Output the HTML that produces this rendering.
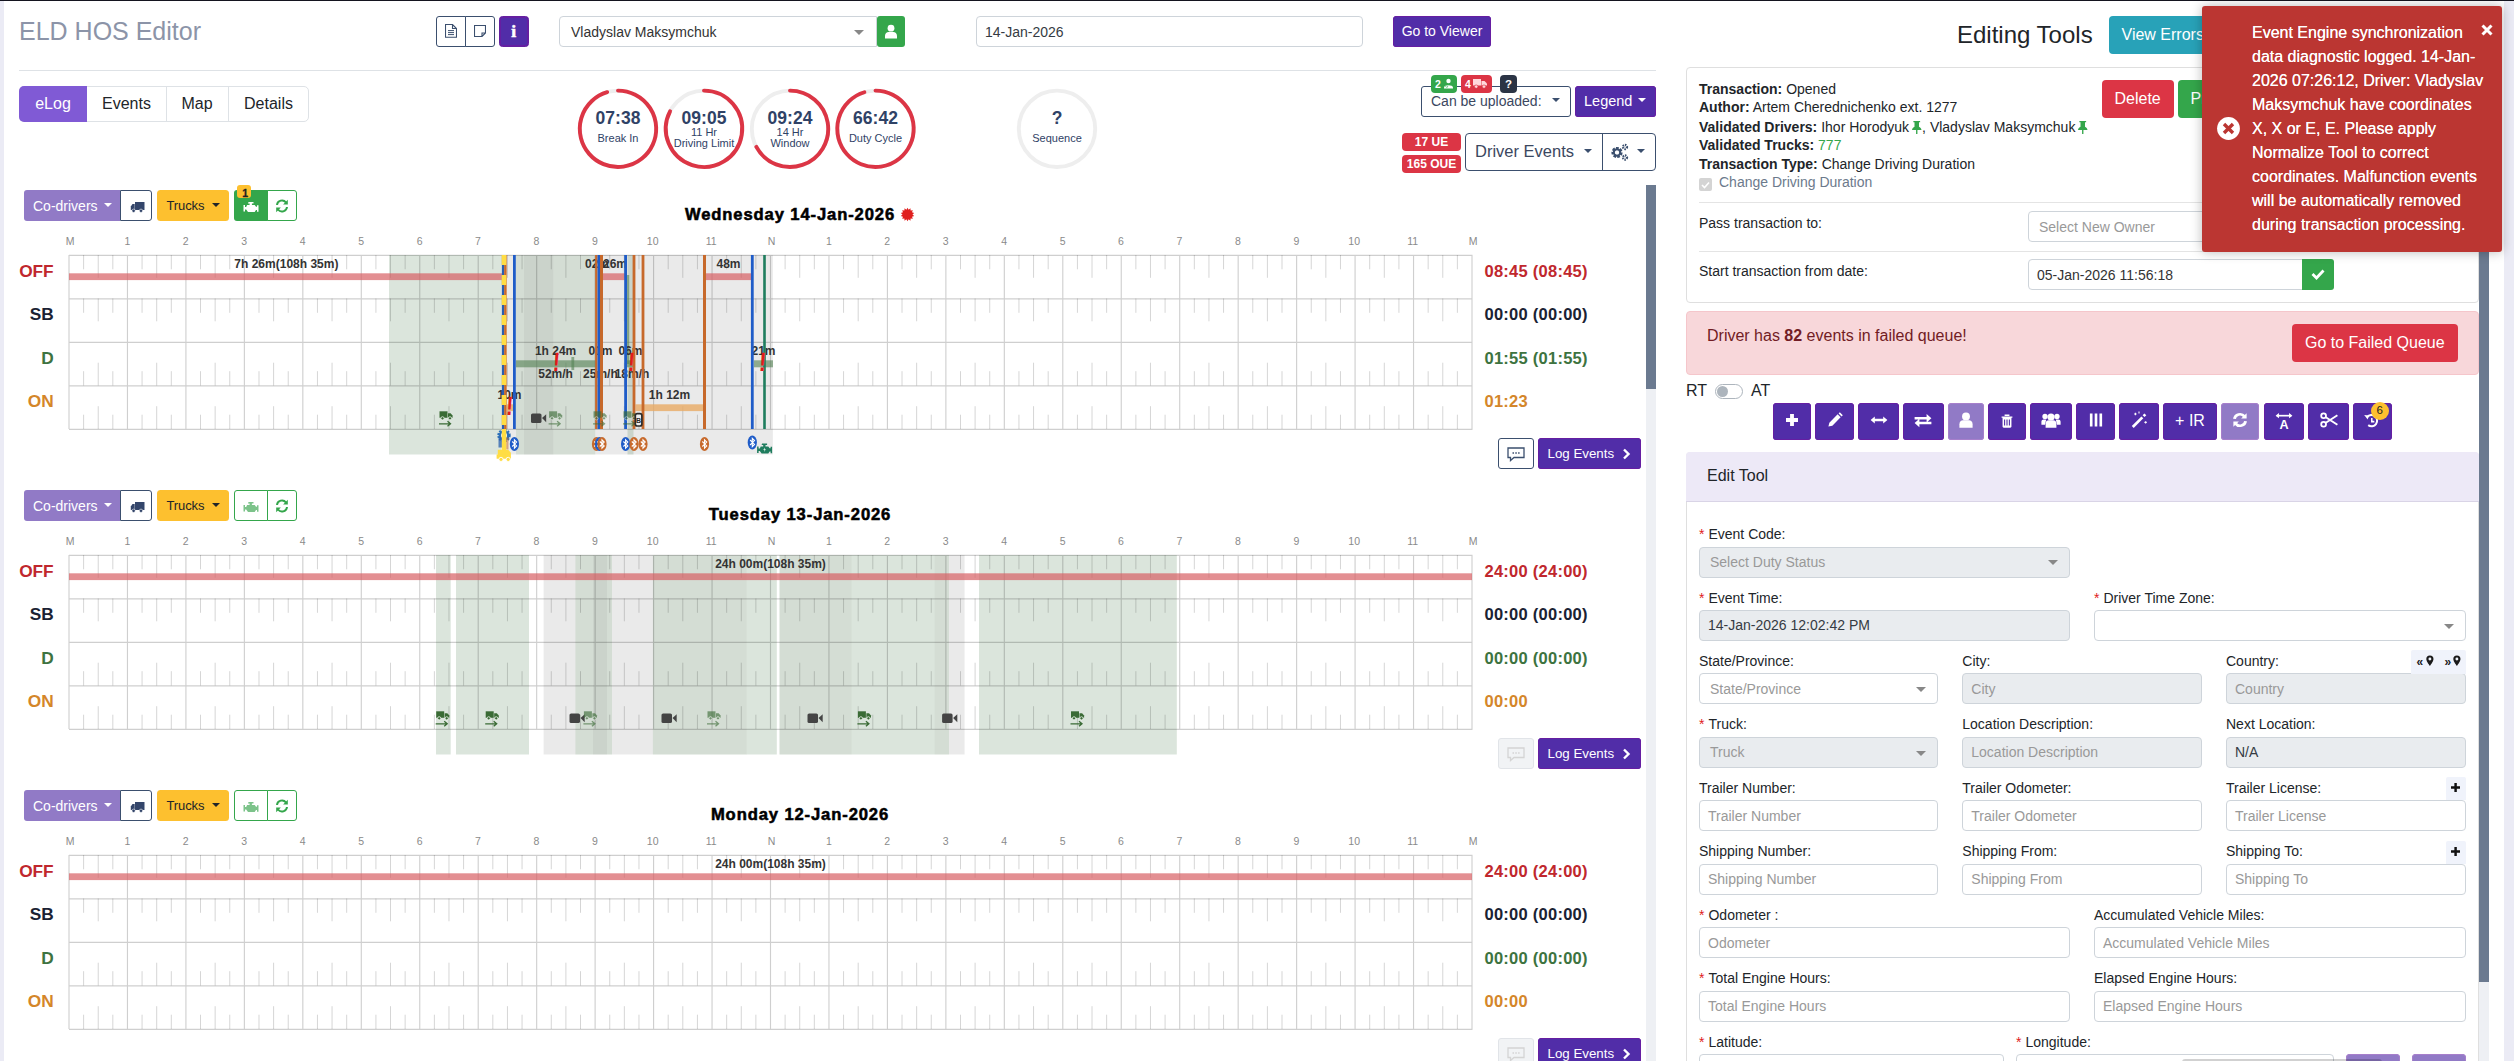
<!DOCTYPE html>
<html lang="en"><head><meta charset="utf-8"><title>ELD HOS Editor</title>
<style>
*{box-sizing:border-box}
html,body{margin:0;padding:0}
body{width:2514px;height:1061px;overflow:hidden;background:#fff;font-family:"Liberation Sans",Arial,sans-serif;color:#212529;position:relative}
.a{position:absolute}
.t{position:absolute;white-space:nowrap;line-height:1}
.btn{position:absolute;border-radius:3.5px;color:#fff;text-align:center;white-space:nowrap}
.pur{background:#512da8;box-shadow:inset 0 0 0 1px #661ea2}
.purl{background:#917ac6;box-shadow:inset 0 0 0 1px #a77fcb}
.inp{position:absolute;border:1px solid #ced4da;border-radius:4px;background:#fff;font-size:14px;color:#353b43;white-space:nowrap;overflow:hidden}
.inp span{position:absolute;left:8px;top:8px;line-height:1}
.inp.dis{background:#e9ecef}
.inp .ph{color:#999}
.inp.sel span{left:10px}
.caret{position:absolute;width:0;height:0;border-left:5.3px solid transparent;border-right:5.3px solid transparent;border-top:5.3px solid #888}
.lbl{position:absolute;font-size:14px;line-height:1;white-space:nowrap;color:#212529}
.lbl i{color:#e02020;font-style:normal;margin-right:4px}
.rowlab{position:absolute;font-weight:bold;font-size:17.3px;line-height:1;text-align:right;width:40px;white-space:nowrap}
.tot{position:absolute;font-weight:bold;font-size:16.5px;line-height:1;white-space:nowrap;letter-spacing:.25px}
.hl{position:absolute;font-size:10.5px;color:#8a8a8a;line-height:1;transform:translateX(-50%);white-space:nowrap}
.ct{font:bold 12px "Liberation Sans",Arial,sans-serif;fill:#333}
</style></head>
<body>
<div class="a" style="left:0;top:0;width:2514px;height:1px;background:#14141f"></div>
<div class="a" style="left:0;top:1px;width:4px;height:1060px;background:#ebebf5"></div>
<div class="t" style="left:19px;top:19px;font-size:25px;color:#8c94a8">ELD HOS Editor</div>
<div class="a" style="left:436px;top:16px;width:30px;height:31px;border:1px solid #3b4f6e;border-radius:3px 0 0 3px;background:#fff"></div>
<div class="a" style="left:465px;top:16px;width:30px;height:31px;border:1px solid #3b4f6e;border-radius:0 3px 3px 0;background:#fff"></div>
<svg class="a" style="left:445px;top:24px" width="12" height="14" viewBox="0 0 12 14"><path d="M.5 .5h7l4 4v8.8h-11zM7.5 .5v4h4" fill="none" stroke="#3b4f6e" stroke-width="1.1"/><path d="M3 6.6h6M3 8.6h6M3 10.6h6" stroke="#3b4f6e" stroke-width="1"/></svg>
<svg class="a" style="left:474px;top:25px" width="12" height="12" viewBox="0 0 12 12"><path d="M.5 .5h11v7.5l-3.5 3.5h-7.5zM8 11.5v-3.5h3.5" fill="none" stroke="#3b4f6e" stroke-width="1.1"/></svg>
<div class="btn pur" style="left:499.4px;top:16px;width:29.6px;height:31px;border:1px solid #6420a0"><span class="t" style="left:10.8px;top:3.8px;font:bold 17.5px 'Liberation Serif',serif;color:#fff;-webkit-text-stroke:.6px #fff">i</span></div>
<div class="inp" style="left:559px;top:16px;width:318px;height:31px;border-radius:4px 0 0 4px;color:#333"><span style="left:11px">Vladyslav Maksymchuk</span><div class="caret" style="right:12px;top:13px"></div></div>
<div class="btn" style="left:877px;top:16px;width:28px;height:31px;background:#34a64b;border-radius:3px"></div>
<svg class="a" style="left:884px;top:24px" width="14" height="15" viewBox="0 0 14 15"><circle cx="7" cy="4.2" r="3.4" fill="#fff"/><path d="M1 14.5V11.8C1 9.3 2.8 8 4.5 8h5C11.2 8 13 9.3 13 11.8v2.7z" fill="#fff"/></svg>
<div class="inp" style="left:976px;top:16px;width:387px;height:31px"><span>14-Jan-2026</span></div>
<div class="btn pur" style="left:1393px;top:16px;width:98px;height:31px;font-size:14px;line-height:31px">Go to Viewer</div>
<div class="a" style="left:19px;top:70px;width:1637px;height:1px;background:#dee2e6"></div>
<div class="a" style="left:19px;top:86px;width:290px;height:36px;border:1px solid #dee2e6;border-radius:5px;background:#fff"></div>
<div class="a" style="left:19px;top:86px;width:68px;height:36px;background:#805ad5;border-radius:5px 0 0 5px"></div>
<div class="a" style="left:166px;top:87px;width:1px;height:34px;background:#dee2e6"></div>
<div class="a" style="left:228px;top:87px;width:1px;height:34px;background:#dee2e6"></div>
<div class="t" style="left:53px;top:96px;font-size:16px;color:#fff;transform:translateX(-50%)">eLog</div>
<div class="t" style="left:126.5px;top:96px;font-size:16px;color:#212529;transform:translateX(-50%)">Events</div>
<div class="t" style="left:197px;top:96px;font-size:16px;color:#212529;transform:translateX(-50%)">Map</div>
<div class="t" style="left:268.5px;top:96px;font-size:16px;color:#212529;transform:translateX(-50%)">Details</div>
<svg class="a" style="left:560px;top:80px" width="560" height="100" viewBox="560 80 560 100">
<circle cx="618" cy="128.8" r="38.2" fill="none" stroke="#eeeeee" stroke-width="3.9"/>
<path d="M618 90.60000000000001A38.2 38.2 0 1 1 607.15 92.17" fill="none" stroke="#dc3545" stroke-width="3.9" stroke-linecap="round"/>
<text x="618" y="124.2" text-anchor="middle" style="font:bold 17.5px 'Liberation Sans',Arial,sans-serif;fill:#2f4266">07:38</text>
<text x="618" y="141.8" text-anchor="middle" style="font:11px 'Liberation Sans',Arial,sans-serif;fill:#2f4266">Break In</text>
<circle cx="704" cy="128.8" r="38.2" fill="none" stroke="#eeeeee" stroke-width="3.9"/>
<path d="M704 90.60000000000001A38.2 38.2 0 1 1 670.05 111.3" fill="none" stroke="#dc3545" stroke-width="3.9" stroke-linecap="round"/>
<text x="704" y="124.2" text-anchor="middle" style="font:bold 17.5px 'Liberation Sans',Arial,sans-serif;fill:#2f4266">09:05</text>
<text x="704" y="135.8" text-anchor="middle" style="font:11px 'Liberation Sans',Arial,sans-serif;fill:#2f4266">11 Hr</text>
<text x="704" y="146.8" text-anchor="middle" style="font:11px 'Liberation Sans',Arial,sans-serif;fill:#2f4266">Driving Limit</text>
<circle cx="790" cy="128.8" r="38.2" fill="none" stroke="#eeeeee" stroke-width="3.9"/>
<path d="M790 90.60000000000001A38.2 38.2 0 1 1 756.36 146.9" fill="none" stroke="#dc3545" stroke-width="3.9" stroke-linecap="round"/>
<text x="790" y="124.2" text-anchor="middle" style="font:bold 17.5px 'Liberation Sans',Arial,sans-serif;fill:#2f4266">09:24</text>
<text x="790" y="135.8" text-anchor="middle" style="font:11px 'Liberation Sans',Arial,sans-serif;fill:#2f4266">14 Hr</text>
<text x="790" y="146.8" text-anchor="middle" style="font:11px 'Liberation Sans',Arial,sans-serif;fill:#2f4266">Window</text>
<circle cx="875.5" cy="128.8" r="38.2" fill="none" stroke="#eeeeee" stroke-width="3.9"/>
<path d="M875.5 90.60000000000001A38.2 38.2 0 1 1 864.38 92.25" fill="none" stroke="#dc3545" stroke-width="3.9" stroke-linecap="round"/>
<text x="875.5" y="124.2" text-anchor="middle" style="font:bold 17.5px 'Liberation Sans',Arial,sans-serif;fill:#2f4266">66:42</text>
<text x="875.5" y="141.8" text-anchor="middle" style="font:11px 'Liberation Sans',Arial,sans-serif;fill:#2f4266">Duty Cycle</text>
<circle cx="1057" cy="128.8" r="38.2" fill="none" stroke="#eeeeee" stroke-width="3.9"/>

<text x="1057" y="124.2" text-anchor="middle" style="font:bold 17.5px 'Liberation Sans',Arial,sans-serif;fill:#2f4266">?</text>
<text x="1057" y="141.8" text-anchor="middle" style="font:11px 'Liberation Sans',Arial,sans-serif;fill:#2f4266">Sequence</text>
</svg>
<div class="a" style="left:1421px;top:86px;width:150px;height:31px;border:1px solid #3b4f6e;border-radius:3px;background:#fff"></div>
<div class="t" style="left:1431px;top:94px;font-size:14px;color:#3b4760">Can be uploaded:</div>
<div class="caret" style="left:1552px;top:98px;border-top-color:#3b4f6e;border-left-width:4px;border-right-width:4px;border-top-width:4.5px"></div>
<div class="btn pur" style="left:1575px;top:86px;width:81px;height:31px"><span class="t" style="left:9px;top:8px;font-size:14.5px;color:#fff">Legend</span><div class="caret" style="left:63px;top:12px;border-top-color:#fff;border-left-width:4px;border-right-width:4px;border-top-width:4.5px"></div></div>
<div class="a" style="left:1431px;top:74.5px;width:26px;height:18px;background:#34a64b;border-radius:4px"></div>
<div class="t" style="left:1435px;top:78px;font:bold 10.5px 'Liberation Sans',Arial,sans-serif;color:#fff">2</div>
<svg class="a" style="left:1443px;top:78px" width="11" height="11" viewBox="0 0 11 11"><circle cx="5.5" cy="3" r="2.2" fill="#fff"/><path d="M1 9.5c0-3 9-3 9 0v1H1z" fill="#fff"/><path d="M2.5 8.2l1.2 1.2 1.5-1.2" stroke="#34a64b" stroke-width=".8" fill="none"/></svg>
<div class="a" style="left:1461px;top:74.5px;width:31px;height:18px;background:#dc3545;border-radius:4px"></div>
<div class="t" style="left:1465px;top:78px;font:bold 10.5px 'Liberation Sans',Arial,sans-serif;color:#fff">4</div>
<svg class="a" style="left:1473px;top:78px" width="15" height="11" viewBox="0 0 15 11"><path d="M0 1h8v6.5H0z" fill="#ffd9dc"/><path d="M8.5 3h3l2.5 2.5v2H8.5z" fill="#ffd9dc"/><circle cx="3.2" cy="8.6" r="1.7" fill="#ffd9dc" stroke="#dc3545" stroke-width=".6"/><circle cx="11" cy="8.6" r="1.7" fill="#ffd9dc" stroke="#dc3545" stroke-width=".6"/></svg>
<div class="a" style="left:1500px;top:74.5px;width:17px;height:18px;background:#2b3445;border-radius:4px"></div>
<div class="t" style="left:1505px;top:77.5px;font:bold 11.5px 'Liberation Sans',Arial,sans-serif;color:#fff">?</div>
<div class="a" style="left:1402px;top:133px;width:59px;height:18px;background:#dc3545;border-radius:4px"></div><div class="t" style="left:1431.5px;top:135px;font:bold 12px 'Liberation Sans',Arial,sans-serif;color:#fff;transform:translateX(-50%)">17 UE</div>
<div class="a" style="left:1402px;top:154.7px;width:59px;height:18px;background:#dc3545;border-radius:4px"></div><div class="t" style="left:1431.5px;top:156.7px;font:bold 12px 'Liberation Sans',Arial,sans-serif;color:#fff;transform:translateX(-50%)">165 OUE</div>
<div class="a" style="left:1465px;top:133px;width:191px;height:38px;border:1px solid #3b4f6e;border-radius:4px;background:#fff"></div>
<div class="a" style="left:1602px;top:133px;width:1px;height:38px;background:#3b4f6e"></div>
<div class="t" style="left:1475px;top:143px;font-size:16.5px;color:#3b4760">Driver Events</div>
<div class="caret" style="left:1584px;top:149px;border-top-color:#3b4f6e;border-left-width:4px;border-right-width:4px;border-top-width:4.5px"></div>
<div class="caret" style="left:1637px;top:149px;border-top-color:#3b4f6e;border-left-width:4px;border-right-width:4px;border-top-width:4.5px"></div>
<svg class="a" style="left:1610px;top:142px" width="20" height="20" viewBox="0 0 20 20"><circle cx="7" cy="10.5" r="4" fill="none" stroke="#3b4f6e" stroke-width="3.2" stroke-dasharray="2.4 1.1"/><circle cx="7" cy="10.5" r="3.2" fill="none" stroke="#3b4f6e" stroke-width="2"/><circle cx="15" cy="5" r="2" fill="none" stroke="#3b4f6e" stroke-width="2.3" stroke-dasharray="1.3 .8"/><circle cx="15" cy="15.5" r="2" fill="none" stroke="#3b4f6e" stroke-width="2.3" stroke-dasharray="1.3 .8"/></svg>
<div class="a" style="left:1646px;top:185px;width:10px;height:876px;background:#eef0f4"></div>
<div class="a" style="left:1646px;top:185px;width:10px;height:204px;background:#6b7a90"></div>
<div class="btn" style="left:24px;top:190.3px;width:96px;height:31px;background:#917ac6;border-radius:3px 0 0 3px"><span class="t" style="left:9px;top:8.5px;font-size:14px;color:#fff">Co-drivers</span><div class="caret" style="left:80px;top:13px;border-top-color:#fff;border-left-width:4px;border-right-width:4px;border-top-width:4.5px"></div></div>
<div class="a" style="left:120px;top:190.3px;width:32px;height:31px;border:1px solid #3b4f6e;border-radius:0 3px 3px 0;background:#fff"></div>
<svg class="a" style="left:129.5px;top:201.60000000000002px" width="15" height="11" viewBox="0 0 15 11"><path d="M5 0h9.5v8H5z" fill="#34466b"/><path d="M.8 4.5L2.5 2h2.2v6H.8z" fill="#34466b"/><circle cx="3.6" cy="8.8" r="1.7" fill="#34466b" stroke="#fff" stroke-width=".6"/><circle cx="11" cy="8.8" r="1.7" fill="#34466b" stroke="#fff" stroke-width=".6"/></svg>
<div class="btn" style="left:157px;top:190.3px;width:72px;height:31px;background:#fdc02f"><span class="t" style="left:9.5px;top:9px;font-size:13px;color:#212529;letter-spacing:-.1px">Trucks</span><div class="caret" style="left:55px;top:13px;border-top-color:#212529;border-left-width:4px;border-right-width:4px;border-top-width:4.5px"></div></div>
<div class="a" style="left:234px;top:190.3px;width:34px;height:31px;background:#34a64b;border-radius:3px 0 0 3px"></div>
<svg class="a" style="left:243px;top:200.8px" width="16" height="13" viewBox="-8 -6.5 16 13"><path d="M-2.5 -5.5h5v1.6h-1.6v1.4h2.8l1.3 1.8h1v-1.5h1.5v6.4h-1.5v-1.7h-1l-1.3 2h-6.7l-1.8-2.4h-1.2v1.9h-1.5v-6.6h1.5v2h1.2l.9-1.9h2.5v-1.4h-1.6z" fill="#fff"/></svg>
<div class="a" style="left:267px;top:190.3px;width:30px;height:31px;border:1px solid #34a64b;border-radius:0 3px 3px 0;background:#fff"></div>
<svg class="a" style="left:275px;top:199.3px" width="14" height="14" viewBox="0 0 14 14"><path d="M2 6A5 5 0 0 1 11 3.5" fill="none" stroke="#34a64b" stroke-width="2"/><path d="M12.8 .8v4.7H8.1z" fill="#34a64b"/><path d="M12 8A5 5 0 0 1 3 10.5" fill="none" stroke="#34a64b" stroke-width="2"/><path d="M1.2 13.2V8.5h4.7z" fill="#34a64b"/></svg>
<div class="a" style="left:237px;top:184.8px;width:14px;height:13px;background:#fdc02f;border-radius:3px"></div><div class="t" style="left:242.3px;top:187.10000000000002px;font:bold 10.5px 'Liberation Sans',Arial,sans-serif;color:#222;-webkit-text-stroke:.3px #222">1</div>
<div class="t" style="left:790px;top:204.5px;font:bold 16.6px 'Liberation Sans',Arial,sans-serif;color:#000;letter-spacing:.88px;-webkit-text-stroke:.55px #000;transform:translateX(-50%)">Wednesday 14-Jan-2026</div>
<svg class="a" style="left:900.4px;top:206.6px" width="15" height="15" viewBox="-7.5 -7.5 15 15"><path d="M0 -6.8L1.11 -4.87L2.95 -6.13L3.12 -3.91L5.32 -4.24L4.5 -2.17L6.63 -1.51L5 -0L6.63 1.51L4.5 2.17L5.32 4.24L3.12 3.91L2.95 6.13L1.11 4.87L0 6.8L-1.11 4.87L-2.95 6.13L-3.12 3.91L-5.32 4.24L-4.5 2.17L-6.63 1.51L-5 0L-6.63 -1.51L-4.5 -2.17L-5.32 -4.24L-3.12 -3.91L-2.95 -6.13L-1.11 -4.87Z" fill="#e0201f"/></svg>
<div class="hl" style="left:70px;top:236px">M</div>
<div class="hl" style="left:127.3px;top:236px">1</div>
<div class="hl" style="left:185.7px;top:236px">2</div>
<div class="hl" style="left:244.2px;top:236px">3</div>
<div class="hl" style="left:302.6px;top:236px">4</div>
<div class="hl" style="left:361.1px;top:236px">5</div>
<div class="hl" style="left:419.6px;top:236px">6</div>
<div class="hl" style="left:478px;top:236px">7</div>
<div class="hl" style="left:536.5px;top:236px">8</div>
<div class="hl" style="left:594.9px;top:236px">9</div>
<div class="hl" style="left:652.7px;top:236px">10</div>
<div class="hl" style="left:711.1px;top:236px">11</div>
<div class="hl" style="left:771.5px;top:236px">N</div>
<div class="hl" style="left:828.8px;top:236px">1</div>
<div class="hl" style="left:887.2px;top:236px">2</div>
<div class="hl" style="left:945.7px;top:236px">3</div>
<div class="hl" style="left:1004.1px;top:236px">4</div>
<div class="hl" style="left:1062.6px;top:236px">5</div>
<div class="hl" style="left:1121px;top:236px">6</div>
<div class="hl" style="left:1179.5px;top:236px">7</div>
<div class="hl" style="left:1238px;top:236px">8</div>
<div class="hl" style="left:1296.4px;top:236px">9</div>
<div class="hl" style="left:1354.2px;top:236px">10</div>
<div class="hl" style="left:1412.6px;top:236px">11</div>
<div class="hl" style="left:1473px;top:236px">M</div>
<div class="rowlab" style="left:13.7px;top:263px;color:#c0272d">OFF</div>
<div class="tot" style="left:1484.5px;top:262.6px;color:#c0272d">08:45 (08:45)</div>
<div class="rowlab" style="left:13.7px;top:306.3px;color:#1a2233">SB</div>
<div class="tot" style="left:1484.5px;top:306.1px;color:#1a2233">00:00 (00:00)</div>
<div class="rowlab" style="left:13.7px;top:349.6px;color:#3d7340">D</div>
<div class="tot" style="left:1484.5px;top:349.6px;color:#3d7340">01:55 (01:55)</div>
<div class="rowlab" style="left:13.7px;top:392.9px;color:#d4862a">ON</div>
<div class="tot" style="left:1484.5px;top:393.1px;color:#d4862a">01:23</div>
<svg class="a" style="left:68px;top:254px" width="1406" height="232" viewBox="68 -1 1406 232"><rect x="389" y="0" width="112.5" height="199.5" fill="rgba(75,125,80,.2)"/><rect x="507" y="0" width="265.9" height="199.5" fill="rgba(0,0,0,.082)"/><rect x="516" y="0" width="8" height="199.5" fill="rgba(60,130,60,.12)"/><rect x="524" y="0" width="29.2" height="199.5" fill="rgba(40,90,40,.155)"/><rect x="553.2" y="0" width="42" height="199.5" fill="rgba(60,130,60,.12)"/><rect x="627.5" y="0" width="6" height="199.5" fill="rgba(75,125,80,.2)"/><path d="M69 0.3H1472.5M69 43.8H1472.5M69 87.3H1472.5M69 130.8H1472.5M69 174.3H1472.5M69 0V174M127.46 0V174M185.92 0V174M244.38 0V174M302.83 0V174M361.29 0V174M419.75 0V174M478.21 0V174M536.67 0V174M595.12 0V174M653.58 0V174M712.04 0V174M770.5 0V174M828.96 0V174M887.42 0V174M945.88 0V174M1004.33 0V174M1062.79 0V174M1121.25 0V174M1179.71 0V174M1238.17 0V174M1296.62 0V174M1355.08 0V174M1413.54 0V174M1472 0V174" stroke="rgba(0,0,0,.19)" stroke-width="1.15" fill="none"/><path d="M83.61 0v14.3M83.61 43.5v14.3M83.61 130.5v-14.3M83.61 174v-14.3M98.23 0v22.8M98.23 43.5v22.8M98.23 130.5v-22.8M98.23 174v-22.8M112.84 0v14.3M112.84 43.5v14.3M112.84 130.5v-14.3M112.84 174v-14.3M142.07 0v14.3M142.07 43.5v14.3M142.07 130.5v-14.3M142.07 174v-14.3M156.69 0v22.8M156.69 43.5v22.8M156.69 130.5v-22.8M156.69 174v-22.8M171.3 0v14.3M171.3 43.5v14.3M171.3 130.5v-14.3M171.3 174v-14.3M200.53 0v14.3M200.53 43.5v14.3M200.53 130.5v-14.3M200.53 174v-14.3M215.15 0v22.8M215.15 43.5v22.8M215.15 130.5v-22.8M215.15 174v-22.8M229.76 0v14.3M229.76 43.5v14.3M229.76 130.5v-14.3M229.76 174v-14.3M258.99 0v14.3M258.99 43.5v14.3M258.99 130.5v-14.3M258.99 174v-14.3M273.6 0v22.8M273.6 43.5v22.8M273.6 130.5v-22.8M273.6 174v-22.8M288.22 0v14.3M288.22 43.5v14.3M288.22 130.5v-14.3M288.22 174v-14.3M317.45 0v14.3M317.45 43.5v14.3M317.45 130.5v-14.3M317.45 174v-14.3M332.06 0v22.8M332.06 43.5v22.8M332.06 130.5v-22.8M332.06 174v-22.8M346.68 0v14.3M346.68 43.5v14.3M346.68 130.5v-14.3M346.68 174v-14.3M375.91 0v14.3M375.91 43.5v14.3M375.91 130.5v-14.3M375.91 174v-14.3M390.52 0v22.8M390.52 43.5v22.8M390.52 130.5v-22.8M390.52 174v-22.8M405.14 0v14.3M405.14 43.5v14.3M405.14 130.5v-14.3M405.14 174v-14.3M434.36 0v14.3M434.36 43.5v14.3M434.36 130.5v-14.3M434.36 174v-14.3M448.98 0v22.8M448.98 43.5v22.8M448.98 130.5v-22.8M448.98 174v-22.8M463.59 0v14.3M463.59 43.5v14.3M463.59 130.5v-14.3M463.59 174v-14.3M492.82 0v14.3M492.82 43.5v14.3M492.82 130.5v-14.3M492.82 174v-14.3M507.44 0v22.8M507.44 43.5v22.8M507.44 130.5v-22.8M507.44 174v-22.8M522.05 0v14.3M522.05 43.5v14.3M522.05 130.5v-14.3M522.05 174v-14.3M551.28 0v14.3M551.28 43.5v14.3M551.28 130.5v-14.3M551.28 174v-14.3M565.9 0v22.8M565.9 43.5v22.8M565.9 130.5v-22.8M565.9 174v-22.8M580.51 0v14.3M580.51 43.5v14.3M580.51 130.5v-14.3M580.51 174v-14.3M609.74 0v14.3M609.74 43.5v14.3M609.74 130.5v-14.3M609.74 174v-14.3M624.35 0v22.8M624.35 43.5v22.8M624.35 130.5v-22.8M624.35 174v-22.8M638.97 0v14.3M638.97 43.5v14.3M638.97 130.5v-14.3M638.97 174v-14.3M668.2 0v14.3M668.2 43.5v14.3M668.2 130.5v-14.3M668.2 174v-14.3M682.81 0v22.8M682.81 43.5v22.8M682.81 130.5v-22.8M682.81 174v-22.8M697.43 0v14.3M697.43 43.5v14.3M697.43 130.5v-14.3M697.43 174v-14.3M726.66 0v14.3M726.66 43.5v14.3M726.66 130.5v-14.3M726.66 174v-14.3M741.27 0v22.8M741.27 43.5v22.8M741.27 130.5v-22.8M741.27 174v-22.8M755.89 0v14.3M755.89 43.5v14.3M755.89 130.5v-14.3M755.89 174v-14.3M785.11 0v14.3M785.11 43.5v14.3M785.11 130.5v-14.3M785.11 174v-14.3M799.73 0v22.8M799.73 43.5v22.8M799.73 130.5v-22.8M799.73 174v-22.8M814.34 0v14.3M814.34 43.5v14.3M814.34 130.5v-14.3M814.34 174v-14.3M843.57 0v14.3M843.57 43.5v14.3M843.57 130.5v-14.3M843.57 174v-14.3M858.19 0v22.8M858.19 43.5v22.8M858.19 130.5v-22.8M858.19 174v-22.8M872.8 0v14.3M872.8 43.5v14.3M872.8 130.5v-14.3M872.8 174v-14.3M902.03 0v14.3M902.03 43.5v14.3M902.03 130.5v-14.3M902.03 174v-14.3M916.65 0v22.8M916.65 43.5v22.8M916.65 130.5v-22.8M916.65 174v-22.8M931.26 0v14.3M931.26 43.5v14.3M931.26 130.5v-14.3M931.26 174v-14.3M960.49 0v14.3M960.49 43.5v14.3M960.49 130.5v-14.3M960.49 174v-14.3M975.1 0v22.8M975.1 43.5v22.8M975.1 130.5v-22.8M975.1 174v-22.8M989.72 0v14.3M989.72 43.5v14.3M989.72 130.5v-14.3M989.72 174v-14.3M1018.95 0v14.3M1018.95 43.5v14.3M1018.95 130.5v-14.3M1018.95 174v-14.3M1033.56 0v22.8M1033.56 43.5v22.8M1033.56 130.5v-22.8M1033.56 174v-22.8M1048.18 0v14.3M1048.18 43.5v14.3M1048.18 130.5v-14.3M1048.18 174v-14.3M1077.41 0v14.3M1077.41 43.5v14.3M1077.41 130.5v-14.3M1077.41 174v-14.3M1092.02 0v22.8M1092.02 43.5v22.8M1092.02 130.5v-22.8M1092.02 174v-22.8M1106.64 0v14.3M1106.64 43.5v14.3M1106.64 130.5v-14.3M1106.64 174v-14.3M1135.86 0v14.3M1135.86 43.5v14.3M1135.86 130.5v-14.3M1135.86 174v-14.3M1150.48 0v22.8M1150.48 43.5v22.8M1150.48 130.5v-22.8M1150.48 174v-22.8M1165.09 0v14.3M1165.09 43.5v14.3M1165.09 130.5v-14.3M1165.09 174v-14.3M1194.32 0v14.3M1194.32 43.5v14.3M1194.32 130.5v-14.3M1194.32 174v-14.3M1208.94 0v22.8M1208.94 43.5v22.8M1208.94 130.5v-22.8M1208.94 174v-22.8M1223.55 0v14.3M1223.55 43.5v14.3M1223.55 130.5v-14.3M1223.55 174v-14.3M1252.78 0v14.3M1252.78 43.5v14.3M1252.78 130.5v-14.3M1252.78 174v-14.3M1267.4 0v22.8M1267.4 43.5v22.8M1267.4 130.5v-22.8M1267.4 174v-22.8M1282.01 0v14.3M1282.01 43.5v14.3M1282.01 130.5v-14.3M1282.01 174v-14.3M1311.24 0v14.3M1311.24 43.5v14.3M1311.24 130.5v-14.3M1311.24 174v-14.3M1325.85 0v22.8M1325.85 43.5v22.8M1325.85 130.5v-22.8M1325.85 174v-22.8M1340.47 0v14.3M1340.47 43.5v14.3M1340.47 130.5v-14.3M1340.47 174v-14.3M1369.7 0v14.3M1369.7 43.5v14.3M1369.7 130.5v-14.3M1369.7 174v-14.3M1384.31 0v22.8M1384.31 43.5v22.8M1384.31 130.5v-22.8M1384.31 174v-22.8M1398.93 0v14.3M1398.93 43.5v14.3M1398.93 130.5v-14.3M1398.93 174v-14.3M1428.16 0v14.3M1428.16 43.5v14.3M1428.16 130.5v-14.3M1428.16 174v-14.3M1442.77 0v22.8M1442.77 43.5v22.8M1442.77 130.5v-22.8M1442.77 174v-22.8M1457.39 0v14.3M1457.39 43.5v14.3M1457.39 130.5v-14.3M1457.39 174v-14.3" stroke="rgba(0,0,0,.165)" stroke-width="1" fill="none"/><rect x="69" y="18.3" width="434.5" height="6.8" fill="rgba(215,95,100,.7)"/><rect x="603" y="18.3" width="22" height="6.8" fill="rgba(215,95,100,.7)"/><rect x="706" y="18.3" width="45" height="6.8" fill="rgba(215,95,100,.7)"/><rect x="516" y="105.3" width="80" height="7" fill="rgba(85,130,85,.62)"/><rect x="571.4" y="102" width="2.8" height="13" fill="rgba(85,130,85,.62)"/><rect x="627" y="20" width="2.2" height="89" fill="rgba(85,130,85,.62)"/><rect x="627" y="105.3" width="6" height="7" fill="rgba(85,130,85,.62)"/><rect x="754" y="105.3" width="19" height="7" fill="rgba(85,130,85,.62)"/><rect x="635.5" y="149.3" width="68" height="6.8" fill="rgba(232,170,100,.8)"/><rect x="507" y="149.3" width="6" height="6.8" fill="rgba(232,170,100,.8)"/><text class="ct" x="286.4" y="13" text-anchor="middle">7h 26m(108h 35m)</text><text class="ct" x="597" y="13" text-anchor="middle">02m</text><text class="ct" x="615" y="13" text-anchor="middle">26m</text><text class="ct" x="728.5" y="13" text-anchor="middle">48m</text><text class="ct" x="555.6" y="100" text-anchor="middle">1h 24m</text><text class="ct" x="555.6" y="123" text-anchor="middle">52m/h</text><text class="ct" x="600.4" y="100" text-anchor="middle">01m</text><text class="ct" x="600.4" y="123" text-anchor="middle">25m/h</text><text class="ct" x="630.4" y="100" text-anchor="middle">06m</text><text class="ct" x="632" y="123" text-anchor="middle">18m/h</text><text class="ct" x="763.5" y="100" text-anchor="middle">21m</text><text class="ct" x="509.5" y="143.5" text-anchor="middle">10m</text><text class="ct" x="669.5" y="143.5" text-anchor="middle">1h 12m</text><rect x="501.8" y="0" width="2.4" height="174" fill="#2a5fae"/><rect x="504.1" y="0" width="2.6" height="174" fill="#c7692b"/><rect x="501.6" y="0" width="4.7" height="10" fill="#ffdd44"/><rect x="501.6" y="20" width="4.7" height="10" fill="#ffdd44"/><rect x="501.6" y="40" width="4.7" height="10" fill="#ffdd44"/><rect x="501.6" y="60" width="4.7" height="10" fill="#ffdd44"/><rect x="501.6" y="80" width="4.7" height="10" fill="#ffdd44"/><rect x="501.6" y="100" width="4.7" height="10" fill="#ffdd44"/><rect x="501.6" y="120" width="4.7" height="10" fill="#ffdd44"/><rect x="501.6" y="140" width="4.7" height="10" fill="#ffdd44"/><rect x="501.6" y="160" width="4.7" height="10" fill="#ffdd44"/><rect x="513" y="0" width="2.8" height="174" fill="#1f5cc8"/><rect x="595.1" y="0" width="2.4" height="174" fill="#c7692b"/><rect x="597.5" y="0" width="2.5" height="174" fill="#1f5cc8"/><rect x="600" y="0" width="3" height="174" fill="#c7692b"/><rect x="624.2" y="0" width="2.8" height="174" fill="#1f5cc8"/><rect x="632.6" y="0" width="2.8" height="174" fill="#c7692b"/><rect x="641.6" y="0" width="2.8" height="174" fill="#c7692b"/><rect x="703" y="0" width="3" height="174" fill="#c7692b"/><rect x="750.9" y="0" width="2.8" height="174" fill="#1f5cc8"/><rect x="763.2" y="0" width="2.6" height="174" fill="#1f7d5e"/><g transform="translate(446,164.3)" opacity="1"><path d="M-6.5 -8h8v6.5h-8z" fill="#3a6b35"/><path d="M2 -6h2.6l2 2.2v2.3H2z" fill="#3a6b35"/><circle cx="-3.5" cy="-1" r="1.6" fill="#3a6b35" stroke="#fff" stroke-width=".7"/><circle cx="4" cy="-1" r="1.6" fill="#3a6b35" stroke="#fff" stroke-width=".7"/><path d="M-7 4.5h10.5M1.5 2l3 2.5-3 2.5" stroke="#3a6b35" stroke-width="1.3" fill="none"/></g><g transform="translate(538.5,163)"><rect x="-7.5" y="-4.5" width="10.5" height="9.5" rx="1.6" fill="#444"/><path d="M3.5 0l4.2-3.8v8.1z" fill="#444"/></g><g transform="translate(555.6,164.3)" opacity="0.62"><path d="M-6.5 -8h8v6.5h-8z" fill="#3a6b35"/><path d="M2 -6h2.6l2 2.2v2.3H2z" fill="#3a6b35"/><circle cx="-3.5" cy="-1" r="1.6" fill="#3a6b35" stroke="#fff" stroke-width=".7"/><circle cx="4" cy="-1" r="1.6" fill="#3a6b35" stroke="#fff" stroke-width=".7"/><path d="M-7 4.5h10.5M1.5 2l3 2.5-3 2.5" stroke="#3a6b35" stroke-width="1.3" fill="none"/></g><g transform="translate(600,164.3)" opacity="0.6"><path d="M-6.5 -8h8v6.5h-8z" fill="#3a6b35"/><path d="M2 -6h2.6l2 2.2v2.3H2z" fill="#3a6b35"/><circle cx="-3.5" cy="-1" r="1.6" fill="#3a6b35" stroke="#fff" stroke-width=".7"/><circle cx="4" cy="-1" r="1.6" fill="#3a6b35" stroke="#fff" stroke-width=".7"/><path d="M-7 4.5h10.5M1.5 2l3 2.5-3 2.5" stroke="#3a6b35" stroke-width="1.3" fill="none"/></g><g transform="translate(630,164.3)" opacity="0.62"><path d="M-6.5 -8h8v6.5h-8z" fill="#3a6b35"/><path d="M2 -6h2.6l2 2.2v2.3H2z" fill="#3a6b35"/><circle cx="-3.5" cy="-1" r="1.6" fill="#3a6b35" stroke="#fff" stroke-width=".7"/><circle cx="4" cy="-1" r="1.6" fill="#3a6b35" stroke="#fff" stroke-width=".7"/><path d="M-7 4.5h10.5M1.5 2l3 2.5-3 2.5" stroke="#3a6b35" stroke-width="1.3" fill="none"/></g><rect x="635.3" y="158.6" width="6.6" height="12.4" rx="2" fill="#eee" stroke="#2b2b2b" stroke-width="1.7"/><text x="638.6" y="167.6" text-anchor="middle" style="font:bold 7px sans-serif;fill:#2b2b2b">B</text><text transform="translate(555.9,116.2) skewX(-4) scale(.8,1)" text-anchor="middle" style="font:bold 26.5px 'Liberation Sans',Arial,sans-serif;fill:#e21b1b">!</text><text transform="translate(630.9,116.2) skewX(-4) scale(.8,1)" text-anchor="middle" style="font:bold 26.5px 'Liberation Sans',Arial,sans-serif;fill:#e21b1b">!</text><text transform="translate(762.1,116.2) skewX(-4) scale(.8,1)" text-anchor="middle" style="font:bold 26.5px 'Liberation Sans',Arial,sans-serif;fill:#e21b1b">!</text><text transform="translate(509,160.2) skewX(-4) scale(.8,1)" text-anchor="middle" style="font:bold 26.5px 'Liberation Sans',Arial,sans-serif;fill:#e21b1b">!</text><g transform="translate(514.4,189)"><ellipse cx="0" cy="0" rx="4.6" ry="6.9" fill="#1f5cc8"/><path d="M-2.2 -2.5l4.4 4.4-2.2 2.2v-8.2l2.2 2.2-4.4 4.4" stroke="#fff" stroke-width="1.1" fill="none"/></g><g transform="translate(596.5,189)"><ellipse cx="0" cy="0" rx="4.6" ry="6.9" fill="#c7692b"/><path d="M-2.2 -2.5l4.4 4.4-2.2 2.2v-8.2l2.2 2.2-4.4 4.4" stroke="#fff" stroke-width="1.1" fill="none"/></g><g transform="translate(599.5,189)"><ellipse cx="0" cy="0" rx="4.6" ry="6.9" fill="#1f5cc8"/><path d="M-2.2 -2.5l4.4 4.4-2.2 2.2v-8.2l2.2 2.2-4.4 4.4" stroke="#fff" stroke-width="1.1" fill="none"/></g><g transform="translate(602,189)"><ellipse cx="0" cy="0" rx="4.6" ry="6.9" fill="#c7692b"/><path d="M-2.2 -2.5l4.4 4.4-2.2 2.2v-8.2l2.2 2.2-4.4 4.4" stroke="#fff" stroke-width="1.1" fill="none"/></g><g transform="translate(625.6,189)"><ellipse cx="0" cy="0" rx="4.6" ry="6.9" fill="#1f5cc8"/><path d="M-2.2 -2.5l4.4 4.4-2.2 2.2v-8.2l2.2 2.2-4.4 4.4" stroke="#fff" stroke-width="1.1" fill="none"/></g><g transform="translate(634,189)"><ellipse cx="0" cy="0" rx="4.6" ry="6.9" fill="#c7692b"/><path d="M-2.2 -2.5l4.4 4.4-2.2 2.2v-8.2l2.2 2.2-4.4 4.4" stroke="#fff" stroke-width="1.1" fill="none"/></g><g transform="translate(643,189)"><ellipse cx="0" cy="0" rx="4.6" ry="6.9" fill="#c7692b"/><path d="M-2.2 -2.5l4.4 4.4-2.2 2.2v-8.2l2.2 2.2-4.4 4.4" stroke="#fff" stroke-width="1.1" fill="none"/></g><g transform="translate(704.5,189)"><ellipse cx="0" cy="0" rx="4.6" ry="6.9" fill="#c7692b"/><path d="M-2.2 -2.5l4.4 4.4-2.2 2.2v-8.2l2.2 2.2-4.4 4.4" stroke="#fff" stroke-width="1.1" fill="none"/></g><g transform="translate(752.3,187.5)"><ellipse cx="0" cy="0" rx="4.6" ry="6.9" fill="#1f5cc8"/><path d="M-2.2 -2.5l4.4 4.4-2.2 2.2v-8.2l2.2 2.2-4.4 4.4" stroke="#fff" stroke-width="1.1" fill="none"/></g><g transform="translate(764.6,194)"><path d="M-2.5 -5.5h5v1.6h-1.6v1.4h2.8l1.3 1.8h1v-1.5h1.5v6.4h-1.5v-1.7h-1l-1.3 2h-6.7l-1.8-2.4h-1.2v1.9h-1.5v-6.6h1.5v2h1.2l.9-1.9h2.5v-1.4h-1.6z" fill="#1f7d5e"/><path d="M.3 -1.6l-1.6 2.6h1.2l-.4 2 1.8-2.8h-1.2z" fill="#e8f3ee"/></g><g transform="translate(504,180.5)"><circle r="4.2" fill="none" stroke="#2a6fb8" stroke-width="2.4"/><circle r="5.8" fill="none" stroke="#2a6fb8" stroke-width="1.8" stroke-dasharray="1.9 1.15"/><rect x="-5.5" y="2" width="4" height="10" fill="#2a5fae" opacity=".75"/><rect x="-1.5" y="2" width="6" height="12" fill="#c7692b" opacity=".55"/></g><rect x="501.8" y="174" width="4.5" height="22" fill="#ffdd44"/><g transform="translate(504.3,201)"><path d="M-6.5 -6.3h10.5l2.6 3v6h-13.1z" fill="#ffdd44"/><rect x="-7.7" y="-1.5" width="2" height="4.2" fill="#ffdd44"/><circle cx="-3.3" cy="3.4" r="2.1" fill="#ffdd44" stroke="#fff" stroke-width=".9"/><circle cx="3.9" cy="3.4" r="2.1" fill="#ffdd44" stroke="#fff" stroke-width=".9"/></g></svg>
<div class="a" style="left:1498px;top:438px;width:36px;height:31px;border:1px solid #3b4f6e;border-radius:3px;background:#fff"></div>
<svg class="a" style="left:1507px;top:447px" width="18" height="15" viewBox="0 0 18 15"><path d="M1 1h16v9.5H7l-3.5 3v-3H1z" fill="none" stroke="#3b4f6e" stroke-width="1.3"/><path d="M5.5 6h1.5M8.3 6h1.5M11.1 6h1.5" stroke="#3b4f6e" stroke-width="1.5"/></svg>
<div class="btn pur" style="left:1538px;top:438px;width:103px;height:31px"><span class="t" style="left:9.5px;top:9px;font-size:13.3px;color:#fff">Log Events</span><svg class="a" style="left:84px;top:10px" width="9" height="12" viewBox="0 0 9 12"><path d="M2 1.5l4.5 4.5L2 10.5" stroke="#fff" stroke-width="2.4" fill="none"/></svg></div>
<div class="btn" style="left:24px;top:490.3px;width:96px;height:31px;background:#917ac6;border-radius:3px 0 0 3px"><span class="t" style="left:9px;top:8.5px;font-size:14px;color:#fff">Co-drivers</span><div class="caret" style="left:80px;top:13px;border-top-color:#fff;border-left-width:4px;border-right-width:4px;border-top-width:4.5px"></div></div>
<div class="a" style="left:120px;top:490.3px;width:32px;height:31px;border:1px solid #3b4f6e;border-radius:0 3px 3px 0;background:#fff"></div>
<svg class="a" style="left:129.5px;top:501.6px" width="15" height="11" viewBox="0 0 15 11"><path d="M5 0h9.5v8H5z" fill="#34466b"/><path d="M.8 4.5L2.5 2h2.2v6H.8z" fill="#34466b"/><circle cx="3.6" cy="8.8" r="1.7" fill="#34466b" stroke="#fff" stroke-width=".6"/><circle cx="11" cy="8.8" r="1.7" fill="#34466b" stroke="#fff" stroke-width=".6"/></svg>
<div class="btn" style="left:157px;top:490.3px;width:72px;height:31px;background:#fdc02f"><span class="t" style="left:9.5px;top:9px;font-size:13px;color:#212529;letter-spacing:-.1px">Trucks</span><div class="caret" style="left:55px;top:13px;border-top-color:#212529;border-left-width:4px;border-right-width:4px;border-top-width:4.5px"></div></div>
<div class="a" style="left:234px;top:490.3px;width:34px;height:31px;border:1px solid #34a64b;border-radius:3px 0 0 3px;background:#fff"></div>
<svg class="a" style="left:243px;top:500.8px" width="16" height="13" viewBox="-8 -6.5 16 13"><path d="M-2.5 -5.5h5v1.6h-1.6v1.4h2.8l1.3 1.8h1v-1.5h1.5v6.4h-1.5v-1.7h-1l-1.3 2h-6.7l-1.8-2.4h-1.2v1.9h-1.5v-6.6h1.5v2h1.2l.9-1.9h2.5v-1.4h-1.6z" fill="#7cc38a"/></svg>
<div class="a" style="left:267px;top:490.3px;width:30px;height:31px;border:1px solid #34a64b;border-radius:0 3px 3px 0;background:#fff"></div>
<svg class="a" style="left:275px;top:499.3px" width="14" height="14" viewBox="0 0 14 14"><path d="M2 6A5 5 0 0 1 11 3.5" fill="none" stroke="#34a64b" stroke-width="2"/><path d="M12.8 .8v4.7H8.1z" fill="#34a64b"/><path d="M12 8A5 5 0 0 1 3 10.5" fill="none" stroke="#34a64b" stroke-width="2"/><path d="M1.2 13.2V8.5h4.7z" fill="#34a64b"/></svg>
<div class="t" style="left:800px;top:504.5px;font:bold 16.6px 'Liberation Sans',Arial,sans-serif;color:#000;letter-spacing:.88px;-webkit-text-stroke:.55px #000;transform:translateX(-50%)">Tuesday 13-Jan-2026</div>
<div class="hl" style="left:70px;top:536px">M</div>
<div class="hl" style="left:127.3px;top:536px">1</div>
<div class="hl" style="left:185.7px;top:536px">2</div>
<div class="hl" style="left:244.2px;top:536px">3</div>
<div class="hl" style="left:302.6px;top:536px">4</div>
<div class="hl" style="left:361.1px;top:536px">5</div>
<div class="hl" style="left:419.6px;top:536px">6</div>
<div class="hl" style="left:478px;top:536px">7</div>
<div class="hl" style="left:536.5px;top:536px">8</div>
<div class="hl" style="left:594.9px;top:536px">9</div>
<div class="hl" style="left:652.7px;top:536px">10</div>
<div class="hl" style="left:711.1px;top:536px">11</div>
<div class="hl" style="left:771.5px;top:536px">N</div>
<div class="hl" style="left:828.8px;top:536px">1</div>
<div class="hl" style="left:887.2px;top:536px">2</div>
<div class="hl" style="left:945.7px;top:536px">3</div>
<div class="hl" style="left:1004.1px;top:536px">4</div>
<div class="hl" style="left:1062.6px;top:536px">5</div>
<div class="hl" style="left:1121px;top:536px">6</div>
<div class="hl" style="left:1179.5px;top:536px">7</div>
<div class="hl" style="left:1238px;top:536px">8</div>
<div class="hl" style="left:1296.4px;top:536px">9</div>
<div class="hl" style="left:1354.2px;top:536px">10</div>
<div class="hl" style="left:1412.6px;top:536px">11</div>
<div class="hl" style="left:1473px;top:536px">M</div>
<div class="rowlab" style="left:13.7px;top:563px;color:#c0272d">OFF</div>
<div class="tot" style="left:1484.5px;top:562.6px;color:#c0272d">24:00 (24:00)</div>
<div class="rowlab" style="left:13.7px;top:606.3px;color:#1a2233">SB</div>
<div class="tot" style="left:1484.5px;top:606.1px;color:#1a2233">00:00 (00:00)</div>
<div class="rowlab" style="left:13.7px;top:649.6px;color:#3d7340">D</div>
<div class="tot" style="left:1484.5px;top:649.6px;color:#3d7340">00:00 (00:00)</div>
<div class="rowlab" style="left:13.7px;top:692.9px;color:#d4862a">ON</div>
<div class="tot" style="left:1484.5px;top:693.1px;color:#d4862a">00:00</div>
<svg class="a" style="left:68px;top:554px" width="1406" height="232" viewBox="68 -1 1406 232"><rect x="436" y="0" width="14.7" height="199.5" fill="rgba(75,125,80,.2)"/><rect x="456" y="0" width="73" height="199.5" fill="rgba(75,125,80,.2)"/><rect x="543.6" y="0" width="203.2" height="199.5" fill="rgba(0,0,0,.082)"/><rect x="575.4" y="0" width="17.6" height="199.5" fill="rgba(60,130,60,.12)"/><rect x="593" y="0" width="14" height="199.5" fill="rgba(40,90,40,.155)"/><rect x="607" y="0" width="5" height="199.5" fill="rgba(60,130,60,.12)"/><rect x="652.9" y="0" width="93.9" height="199.5" fill="rgba(60,130,60,.12)"/><rect x="746.8" y="0" width="30" height="199.5" fill="rgba(75,125,80,.2)"/><rect x="779.5" y="0" width="72.2" height="199.5" fill="rgba(0,0,0,.082)"/><rect x="779.5" y="0" width="72.2" height="199.5" fill="rgba(60,130,60,.12)"/><rect x="851.7" y="0" width="82.8" height="199.5" fill="rgba(75,125,80,.2)"/><rect x="934.5" y="0" width="30.1" height="199.5" fill="rgba(0,0,0,.082)"/><rect x="934.5" y="0" width="14.5" height="199.5" fill="rgba(60,130,60,.12)"/><rect x="979" y="0" width="197.8" height="199.5" fill="rgba(75,125,80,.2)"/><path d="M69 0.3H1472.5M69 43.8H1472.5M69 87.3H1472.5M69 130.8H1472.5M69 174.3H1472.5M69 0V174M127.46 0V174M185.92 0V174M244.38 0V174M302.83 0V174M361.29 0V174M419.75 0V174M478.21 0V174M536.67 0V174M595.12 0V174M653.58 0V174M712.04 0V174M770.5 0V174M828.96 0V174M887.42 0V174M945.88 0V174M1004.33 0V174M1062.79 0V174M1121.25 0V174M1179.71 0V174M1238.17 0V174M1296.62 0V174M1355.08 0V174M1413.54 0V174M1472 0V174" stroke="rgba(0,0,0,.19)" stroke-width="1.15" fill="none"/><path d="M83.61 0v14.3M83.61 43.5v14.3M83.61 130.5v-14.3M83.61 174v-14.3M98.23 0v22.8M98.23 43.5v22.8M98.23 130.5v-22.8M98.23 174v-22.8M112.84 0v14.3M112.84 43.5v14.3M112.84 130.5v-14.3M112.84 174v-14.3M142.07 0v14.3M142.07 43.5v14.3M142.07 130.5v-14.3M142.07 174v-14.3M156.69 0v22.8M156.69 43.5v22.8M156.69 130.5v-22.8M156.69 174v-22.8M171.3 0v14.3M171.3 43.5v14.3M171.3 130.5v-14.3M171.3 174v-14.3M200.53 0v14.3M200.53 43.5v14.3M200.53 130.5v-14.3M200.53 174v-14.3M215.15 0v22.8M215.15 43.5v22.8M215.15 130.5v-22.8M215.15 174v-22.8M229.76 0v14.3M229.76 43.5v14.3M229.76 130.5v-14.3M229.76 174v-14.3M258.99 0v14.3M258.99 43.5v14.3M258.99 130.5v-14.3M258.99 174v-14.3M273.6 0v22.8M273.6 43.5v22.8M273.6 130.5v-22.8M273.6 174v-22.8M288.22 0v14.3M288.22 43.5v14.3M288.22 130.5v-14.3M288.22 174v-14.3M317.45 0v14.3M317.45 43.5v14.3M317.45 130.5v-14.3M317.45 174v-14.3M332.06 0v22.8M332.06 43.5v22.8M332.06 130.5v-22.8M332.06 174v-22.8M346.68 0v14.3M346.68 43.5v14.3M346.68 130.5v-14.3M346.68 174v-14.3M375.91 0v14.3M375.91 43.5v14.3M375.91 130.5v-14.3M375.91 174v-14.3M390.52 0v22.8M390.52 43.5v22.8M390.52 130.5v-22.8M390.52 174v-22.8M405.14 0v14.3M405.14 43.5v14.3M405.14 130.5v-14.3M405.14 174v-14.3M434.36 0v14.3M434.36 43.5v14.3M434.36 130.5v-14.3M434.36 174v-14.3M448.98 0v22.8M448.98 43.5v22.8M448.98 130.5v-22.8M448.98 174v-22.8M463.59 0v14.3M463.59 43.5v14.3M463.59 130.5v-14.3M463.59 174v-14.3M492.82 0v14.3M492.82 43.5v14.3M492.82 130.5v-14.3M492.82 174v-14.3M507.44 0v22.8M507.44 43.5v22.8M507.44 130.5v-22.8M507.44 174v-22.8M522.05 0v14.3M522.05 43.5v14.3M522.05 130.5v-14.3M522.05 174v-14.3M551.28 0v14.3M551.28 43.5v14.3M551.28 130.5v-14.3M551.28 174v-14.3M565.9 0v22.8M565.9 43.5v22.8M565.9 130.5v-22.8M565.9 174v-22.8M580.51 0v14.3M580.51 43.5v14.3M580.51 130.5v-14.3M580.51 174v-14.3M609.74 0v14.3M609.74 43.5v14.3M609.74 130.5v-14.3M609.74 174v-14.3M624.35 0v22.8M624.35 43.5v22.8M624.35 130.5v-22.8M624.35 174v-22.8M638.97 0v14.3M638.97 43.5v14.3M638.97 130.5v-14.3M638.97 174v-14.3M668.2 0v14.3M668.2 43.5v14.3M668.2 130.5v-14.3M668.2 174v-14.3M682.81 0v22.8M682.81 43.5v22.8M682.81 130.5v-22.8M682.81 174v-22.8M697.43 0v14.3M697.43 43.5v14.3M697.43 130.5v-14.3M697.43 174v-14.3M726.66 0v14.3M726.66 43.5v14.3M726.66 130.5v-14.3M726.66 174v-14.3M741.27 0v22.8M741.27 43.5v22.8M741.27 130.5v-22.8M741.27 174v-22.8M755.89 0v14.3M755.89 43.5v14.3M755.89 130.5v-14.3M755.89 174v-14.3M785.11 0v14.3M785.11 43.5v14.3M785.11 130.5v-14.3M785.11 174v-14.3M799.73 0v22.8M799.73 43.5v22.8M799.73 130.5v-22.8M799.73 174v-22.8M814.34 0v14.3M814.34 43.5v14.3M814.34 130.5v-14.3M814.34 174v-14.3M843.57 0v14.3M843.57 43.5v14.3M843.57 130.5v-14.3M843.57 174v-14.3M858.19 0v22.8M858.19 43.5v22.8M858.19 130.5v-22.8M858.19 174v-22.8M872.8 0v14.3M872.8 43.5v14.3M872.8 130.5v-14.3M872.8 174v-14.3M902.03 0v14.3M902.03 43.5v14.3M902.03 130.5v-14.3M902.03 174v-14.3M916.65 0v22.8M916.65 43.5v22.8M916.65 130.5v-22.8M916.65 174v-22.8M931.26 0v14.3M931.26 43.5v14.3M931.26 130.5v-14.3M931.26 174v-14.3M960.49 0v14.3M960.49 43.5v14.3M960.49 130.5v-14.3M960.49 174v-14.3M975.1 0v22.8M975.1 43.5v22.8M975.1 130.5v-22.8M975.1 174v-22.8M989.72 0v14.3M989.72 43.5v14.3M989.72 130.5v-14.3M989.72 174v-14.3M1018.95 0v14.3M1018.95 43.5v14.3M1018.95 130.5v-14.3M1018.95 174v-14.3M1033.56 0v22.8M1033.56 43.5v22.8M1033.56 130.5v-22.8M1033.56 174v-22.8M1048.18 0v14.3M1048.18 43.5v14.3M1048.18 130.5v-14.3M1048.18 174v-14.3M1077.41 0v14.3M1077.41 43.5v14.3M1077.41 130.5v-14.3M1077.41 174v-14.3M1092.02 0v22.8M1092.02 43.5v22.8M1092.02 130.5v-22.8M1092.02 174v-22.8M1106.64 0v14.3M1106.64 43.5v14.3M1106.64 130.5v-14.3M1106.64 174v-14.3M1135.86 0v14.3M1135.86 43.5v14.3M1135.86 130.5v-14.3M1135.86 174v-14.3M1150.48 0v22.8M1150.48 43.5v22.8M1150.48 130.5v-22.8M1150.48 174v-22.8M1165.09 0v14.3M1165.09 43.5v14.3M1165.09 130.5v-14.3M1165.09 174v-14.3M1194.32 0v14.3M1194.32 43.5v14.3M1194.32 130.5v-14.3M1194.32 174v-14.3M1208.94 0v22.8M1208.94 43.5v22.8M1208.94 130.5v-22.8M1208.94 174v-22.8M1223.55 0v14.3M1223.55 43.5v14.3M1223.55 130.5v-14.3M1223.55 174v-14.3M1252.78 0v14.3M1252.78 43.5v14.3M1252.78 130.5v-14.3M1252.78 174v-14.3M1267.4 0v22.8M1267.4 43.5v22.8M1267.4 130.5v-22.8M1267.4 174v-22.8M1282.01 0v14.3M1282.01 43.5v14.3M1282.01 130.5v-14.3M1282.01 174v-14.3M1311.24 0v14.3M1311.24 43.5v14.3M1311.24 130.5v-14.3M1311.24 174v-14.3M1325.85 0v22.8M1325.85 43.5v22.8M1325.85 130.5v-22.8M1325.85 174v-22.8M1340.47 0v14.3M1340.47 43.5v14.3M1340.47 130.5v-14.3M1340.47 174v-14.3M1369.7 0v14.3M1369.7 43.5v14.3M1369.7 130.5v-14.3M1369.7 174v-14.3M1384.31 0v22.8M1384.31 43.5v22.8M1384.31 130.5v-22.8M1384.31 174v-22.8M1398.93 0v14.3M1398.93 43.5v14.3M1398.93 130.5v-14.3M1398.93 174v-14.3M1428.16 0v14.3M1428.16 43.5v14.3M1428.16 130.5v-14.3M1428.16 174v-14.3M1442.77 0v22.8M1442.77 43.5v22.8M1442.77 130.5v-22.8M1442.77 174v-22.8M1457.39 0v14.3M1457.39 43.5v14.3M1457.39 130.5v-14.3M1457.39 174v-14.3" stroke="rgba(0,0,0,.165)" stroke-width="1" fill="none"/><rect x="69" y="18.3" width="1403" height="6.8" fill="rgba(215,95,100,.7)"/><text class="ct" x="770.5" y="13" text-anchor="middle">24h 00m(108h 35m)</text><g transform="translate(442.7,164.3)" opacity="1"><path d="M-6.5 -8h8v6.5h-8z" fill="#3a6b35"/><path d="M2 -6h2.6l2 2.2v2.3H2z" fill="#3a6b35"/><circle cx="-3.5" cy="-1" r="1.6" fill="#3a6b35" stroke="#fff" stroke-width=".7"/><circle cx="4" cy="-1" r="1.6" fill="#3a6b35" stroke="#fff" stroke-width=".7"/><path d="M-7 4.5h10.5M1.5 2l3 2.5-3 2.5" stroke="#3a6b35" stroke-width="1.3" fill="none"/></g><g transform="translate(492.2,164.3)" opacity="1"><path d="M-6.5 -8h8v6.5h-8z" fill="#3a6b35"/><path d="M2 -6h2.6l2 2.2v2.3H2z" fill="#3a6b35"/><circle cx="-3.5" cy="-1" r="1.6" fill="#3a6b35" stroke="#fff" stroke-width=".7"/><circle cx="4" cy="-1" r="1.6" fill="#3a6b35" stroke="#fff" stroke-width=".7"/><path d="M-7 4.5h10.5M1.5 2l3 2.5-3 2.5" stroke="#3a6b35" stroke-width="1.3" fill="none"/></g><g transform="translate(577,163)"><rect x="-7.5" y="-4.5" width="10.5" height="9.5" rx="1.6" fill="#444"/><path d="M3.5 0l4.2-3.8v8.1z" fill="#444"/></g><g transform="translate(590.4,164.3)" opacity="0.62"><path d="M-6.5 -8h8v6.5h-8z" fill="#3a6b35"/><path d="M2 -6h2.6l2 2.2v2.3H2z" fill="#3a6b35"/><circle cx="-3.5" cy="-1" r="1.6" fill="#3a6b35" stroke="#fff" stroke-width=".7"/><circle cx="4" cy="-1" r="1.6" fill="#3a6b35" stroke="#fff" stroke-width=".7"/><path d="M-7 4.5h10.5M1.5 2l3 2.5-3 2.5" stroke="#3a6b35" stroke-width="1.3" fill="none"/></g><g transform="translate(669,163)"><rect x="-7.5" y="-4.5" width="10.5" height="9.5" rx="1.6" fill="#444"/><path d="M3.5 0l4.2-3.8v8.1z" fill="#444"/></g><g transform="translate(714,164.3)" opacity="0.62"><path d="M-6.5 -8h8v6.5h-8z" fill="#3a6b35"/><path d="M2 -6h2.6l2 2.2v2.3H2z" fill="#3a6b35"/><circle cx="-3.5" cy="-1" r="1.6" fill="#3a6b35" stroke="#fff" stroke-width=".7"/><circle cx="4" cy="-1" r="1.6" fill="#3a6b35" stroke="#fff" stroke-width=".7"/><path d="M-7 4.5h10.5M1.5 2l3 2.5-3 2.5" stroke="#3a6b35" stroke-width="1.3" fill="none"/></g><g transform="translate(815,163)"><rect x="-7.5" y="-4.5" width="10.5" height="9.5" rx="1.6" fill="#444"/><path d="M3.5 0l4.2-3.8v8.1z" fill="#444"/></g><g transform="translate(864.4,164.3)" opacity="1"><path d="M-6.5 -8h8v6.5h-8z" fill="#3a6b35"/><path d="M2 -6h2.6l2 2.2v2.3H2z" fill="#3a6b35"/><circle cx="-3.5" cy="-1" r="1.6" fill="#3a6b35" stroke="#fff" stroke-width=".7"/><circle cx="4" cy="-1" r="1.6" fill="#3a6b35" stroke="#fff" stroke-width=".7"/><path d="M-7 4.5h10.5M1.5 2l3 2.5-3 2.5" stroke="#3a6b35" stroke-width="1.3" fill="none"/></g><g transform="translate(949.6,163)"><rect x="-7.5" y="-4.5" width="10.5" height="9.5" rx="1.6" fill="#444"/><path d="M3.5 0l4.2-3.8v8.1z" fill="#444"/></g><g transform="translate(1077.5,164.3)" opacity="1"><path d="M-6.5 -8h8v6.5h-8z" fill="#3a6b35"/><path d="M2 -6h2.6l2 2.2v2.3H2z" fill="#3a6b35"/><circle cx="-3.5" cy="-1" r="1.6" fill="#3a6b35" stroke="#fff" stroke-width=".7"/><circle cx="4" cy="-1" r="1.6" fill="#3a6b35" stroke="#fff" stroke-width=".7"/><path d="M-7 4.5h10.5M1.5 2l3 2.5-3 2.5" stroke="#3a6b35" stroke-width="1.3" fill="none"/></g></svg>
<div class="a" style="left:1498px;top:738px;width:36px;height:31px;border:1px solid #e1e4e8;border-radius:3px;background:#f1f3f5"></div>
<svg class="a" style="left:1507px;top:747px" width="18" height="15" viewBox="0 0 18 15"><path d="M1 1h16v9.5H7l-3.5 3v-3H1z" fill="none" stroke="#d4d4d4" stroke-width="1.3"/><path d="M5.5 6h1.5M8.3 6h1.5M11.1 6h1.5" stroke="#d4d4d4" stroke-width="1.5"/></svg>
<div class="btn pur" style="left:1538px;top:738px;width:103px;height:31px"><span class="t" style="left:9.5px;top:9px;font-size:13.3px;color:#fff">Log Events</span><svg class="a" style="left:84px;top:10px" width="9" height="12" viewBox="0 0 9 12"><path d="M2 1.5l4.5 4.5L2 10.5" stroke="#fff" stroke-width="2.4" fill="none"/></svg></div>
<div class="btn" style="left:24px;top:790.3px;width:96px;height:31px;background:#917ac6;border-radius:3px 0 0 3px"><span class="t" style="left:9px;top:8.5px;font-size:14px;color:#fff">Co-drivers</span><div class="caret" style="left:80px;top:13px;border-top-color:#fff;border-left-width:4px;border-right-width:4px;border-top-width:4.5px"></div></div>
<div class="a" style="left:120px;top:790.3px;width:32px;height:31px;border:1px solid #3b4f6e;border-radius:0 3px 3px 0;background:#fff"></div>
<svg class="a" style="left:129.5px;top:801.5999999999999px" width="15" height="11" viewBox="0 0 15 11"><path d="M5 0h9.5v8H5z" fill="#34466b"/><path d="M.8 4.5L2.5 2h2.2v6H.8z" fill="#34466b"/><circle cx="3.6" cy="8.8" r="1.7" fill="#34466b" stroke="#fff" stroke-width=".6"/><circle cx="11" cy="8.8" r="1.7" fill="#34466b" stroke="#fff" stroke-width=".6"/></svg>
<div class="btn" style="left:157px;top:790.3px;width:72px;height:31px;background:#fdc02f"><span class="t" style="left:9.5px;top:9px;font-size:13px;color:#212529;letter-spacing:-.1px">Trucks</span><div class="caret" style="left:55px;top:13px;border-top-color:#212529;border-left-width:4px;border-right-width:4px;border-top-width:4.5px"></div></div>
<div class="a" style="left:234px;top:790.3px;width:34px;height:31px;border:1px solid #34a64b;border-radius:3px 0 0 3px;background:#fff"></div>
<svg class="a" style="left:243px;top:800.8px" width="16" height="13" viewBox="-8 -6.5 16 13"><path d="M-2.5 -5.5h5v1.6h-1.6v1.4h2.8l1.3 1.8h1v-1.5h1.5v6.4h-1.5v-1.7h-1l-1.3 2h-6.7l-1.8-2.4h-1.2v1.9h-1.5v-6.6h1.5v2h1.2l.9-1.9h2.5v-1.4h-1.6z" fill="#7cc38a"/></svg>
<div class="a" style="left:267px;top:790.3px;width:30px;height:31px;border:1px solid #34a64b;border-radius:0 3px 3px 0;background:#fff"></div>
<svg class="a" style="left:275px;top:799.3px" width="14" height="14" viewBox="0 0 14 14"><path d="M2 6A5 5 0 0 1 11 3.5" fill="none" stroke="#34a64b" stroke-width="2"/><path d="M12.8 .8v4.7H8.1z" fill="#34a64b"/><path d="M12 8A5 5 0 0 1 3 10.5" fill="none" stroke="#34a64b" stroke-width="2"/><path d="M1.2 13.2V8.5h4.7z" fill="#34a64b"/></svg>
<div class="t" style="left:800px;top:804.5px;font:bold 16.6px 'Liberation Sans',Arial,sans-serif;color:#000;letter-spacing:.88px;-webkit-text-stroke:.55px #000;transform:translateX(-50%)">Monday 12-Jan-2026</div>
<div class="hl" style="left:70px;top:836px">M</div>
<div class="hl" style="left:127.3px;top:836px">1</div>
<div class="hl" style="left:185.7px;top:836px">2</div>
<div class="hl" style="left:244.2px;top:836px">3</div>
<div class="hl" style="left:302.6px;top:836px">4</div>
<div class="hl" style="left:361.1px;top:836px">5</div>
<div class="hl" style="left:419.6px;top:836px">6</div>
<div class="hl" style="left:478px;top:836px">7</div>
<div class="hl" style="left:536.5px;top:836px">8</div>
<div class="hl" style="left:594.9px;top:836px">9</div>
<div class="hl" style="left:652.7px;top:836px">10</div>
<div class="hl" style="left:711.1px;top:836px">11</div>
<div class="hl" style="left:771.5px;top:836px">N</div>
<div class="hl" style="left:828.8px;top:836px">1</div>
<div class="hl" style="left:887.2px;top:836px">2</div>
<div class="hl" style="left:945.7px;top:836px">3</div>
<div class="hl" style="left:1004.1px;top:836px">4</div>
<div class="hl" style="left:1062.6px;top:836px">5</div>
<div class="hl" style="left:1121px;top:836px">6</div>
<div class="hl" style="left:1179.5px;top:836px">7</div>
<div class="hl" style="left:1238px;top:836px">8</div>
<div class="hl" style="left:1296.4px;top:836px">9</div>
<div class="hl" style="left:1354.2px;top:836px">10</div>
<div class="hl" style="left:1412.6px;top:836px">11</div>
<div class="hl" style="left:1473px;top:836px">M</div>
<div class="rowlab" style="left:13.7px;top:863px;color:#c0272d">OFF</div>
<div class="tot" style="left:1484.5px;top:862.6px;color:#c0272d">24:00 (24:00)</div>
<div class="rowlab" style="left:13.7px;top:906.3px;color:#1a2233">SB</div>
<div class="tot" style="left:1484.5px;top:906.1px;color:#1a2233">00:00 (00:00)</div>
<div class="rowlab" style="left:13.7px;top:949.6px;color:#3d7340">D</div>
<div class="tot" style="left:1484.5px;top:949.6px;color:#3d7340">00:00 (00:00)</div>
<div class="rowlab" style="left:13.7px;top:992.9px;color:#d4862a">ON</div>
<div class="tot" style="left:1484.5px;top:993.1px;color:#d4862a">00:00</div>
<svg class="a" style="left:68px;top:854px" width="1406" height="232" viewBox="68 -1 1406 232"><path d="M69 0.3H1472.5M69 43.8H1472.5M69 87.3H1472.5M69 130.8H1472.5M69 174.3H1472.5M69 0V174M127.46 0V174M185.92 0V174M244.38 0V174M302.83 0V174M361.29 0V174M419.75 0V174M478.21 0V174M536.67 0V174M595.12 0V174M653.58 0V174M712.04 0V174M770.5 0V174M828.96 0V174M887.42 0V174M945.88 0V174M1004.33 0V174M1062.79 0V174M1121.25 0V174M1179.71 0V174M1238.17 0V174M1296.62 0V174M1355.08 0V174M1413.54 0V174M1472 0V174" stroke="rgba(0,0,0,.19)" stroke-width="1.15" fill="none"/><path d="M83.61 0v14.3M83.61 43.5v14.3M83.61 130.5v-14.3M83.61 174v-14.3M98.23 0v22.8M98.23 43.5v22.8M98.23 130.5v-22.8M98.23 174v-22.8M112.84 0v14.3M112.84 43.5v14.3M112.84 130.5v-14.3M112.84 174v-14.3M142.07 0v14.3M142.07 43.5v14.3M142.07 130.5v-14.3M142.07 174v-14.3M156.69 0v22.8M156.69 43.5v22.8M156.69 130.5v-22.8M156.69 174v-22.8M171.3 0v14.3M171.3 43.5v14.3M171.3 130.5v-14.3M171.3 174v-14.3M200.53 0v14.3M200.53 43.5v14.3M200.53 130.5v-14.3M200.53 174v-14.3M215.15 0v22.8M215.15 43.5v22.8M215.15 130.5v-22.8M215.15 174v-22.8M229.76 0v14.3M229.76 43.5v14.3M229.76 130.5v-14.3M229.76 174v-14.3M258.99 0v14.3M258.99 43.5v14.3M258.99 130.5v-14.3M258.99 174v-14.3M273.6 0v22.8M273.6 43.5v22.8M273.6 130.5v-22.8M273.6 174v-22.8M288.22 0v14.3M288.22 43.5v14.3M288.22 130.5v-14.3M288.22 174v-14.3M317.45 0v14.3M317.45 43.5v14.3M317.45 130.5v-14.3M317.45 174v-14.3M332.06 0v22.8M332.06 43.5v22.8M332.06 130.5v-22.8M332.06 174v-22.8M346.68 0v14.3M346.68 43.5v14.3M346.68 130.5v-14.3M346.68 174v-14.3M375.91 0v14.3M375.91 43.5v14.3M375.91 130.5v-14.3M375.91 174v-14.3M390.52 0v22.8M390.52 43.5v22.8M390.52 130.5v-22.8M390.52 174v-22.8M405.14 0v14.3M405.14 43.5v14.3M405.14 130.5v-14.3M405.14 174v-14.3M434.36 0v14.3M434.36 43.5v14.3M434.36 130.5v-14.3M434.36 174v-14.3M448.98 0v22.8M448.98 43.5v22.8M448.98 130.5v-22.8M448.98 174v-22.8M463.59 0v14.3M463.59 43.5v14.3M463.59 130.5v-14.3M463.59 174v-14.3M492.82 0v14.3M492.82 43.5v14.3M492.82 130.5v-14.3M492.82 174v-14.3M507.44 0v22.8M507.44 43.5v22.8M507.44 130.5v-22.8M507.44 174v-22.8M522.05 0v14.3M522.05 43.5v14.3M522.05 130.5v-14.3M522.05 174v-14.3M551.28 0v14.3M551.28 43.5v14.3M551.28 130.5v-14.3M551.28 174v-14.3M565.9 0v22.8M565.9 43.5v22.8M565.9 130.5v-22.8M565.9 174v-22.8M580.51 0v14.3M580.51 43.5v14.3M580.51 130.5v-14.3M580.51 174v-14.3M609.74 0v14.3M609.74 43.5v14.3M609.74 130.5v-14.3M609.74 174v-14.3M624.35 0v22.8M624.35 43.5v22.8M624.35 130.5v-22.8M624.35 174v-22.8M638.97 0v14.3M638.97 43.5v14.3M638.97 130.5v-14.3M638.97 174v-14.3M668.2 0v14.3M668.2 43.5v14.3M668.2 130.5v-14.3M668.2 174v-14.3M682.81 0v22.8M682.81 43.5v22.8M682.81 130.5v-22.8M682.81 174v-22.8M697.43 0v14.3M697.43 43.5v14.3M697.43 130.5v-14.3M697.43 174v-14.3M726.66 0v14.3M726.66 43.5v14.3M726.66 130.5v-14.3M726.66 174v-14.3M741.27 0v22.8M741.27 43.5v22.8M741.27 130.5v-22.8M741.27 174v-22.8M755.89 0v14.3M755.89 43.5v14.3M755.89 130.5v-14.3M755.89 174v-14.3M785.11 0v14.3M785.11 43.5v14.3M785.11 130.5v-14.3M785.11 174v-14.3M799.73 0v22.8M799.73 43.5v22.8M799.73 130.5v-22.8M799.73 174v-22.8M814.34 0v14.3M814.34 43.5v14.3M814.34 130.5v-14.3M814.34 174v-14.3M843.57 0v14.3M843.57 43.5v14.3M843.57 130.5v-14.3M843.57 174v-14.3M858.19 0v22.8M858.19 43.5v22.8M858.19 130.5v-22.8M858.19 174v-22.8M872.8 0v14.3M872.8 43.5v14.3M872.8 130.5v-14.3M872.8 174v-14.3M902.03 0v14.3M902.03 43.5v14.3M902.03 130.5v-14.3M902.03 174v-14.3M916.65 0v22.8M916.65 43.5v22.8M916.65 130.5v-22.8M916.65 174v-22.8M931.26 0v14.3M931.26 43.5v14.3M931.26 130.5v-14.3M931.26 174v-14.3M960.49 0v14.3M960.49 43.5v14.3M960.49 130.5v-14.3M960.49 174v-14.3M975.1 0v22.8M975.1 43.5v22.8M975.1 130.5v-22.8M975.1 174v-22.8M989.72 0v14.3M989.72 43.5v14.3M989.72 130.5v-14.3M989.72 174v-14.3M1018.95 0v14.3M1018.95 43.5v14.3M1018.95 130.5v-14.3M1018.95 174v-14.3M1033.56 0v22.8M1033.56 43.5v22.8M1033.56 130.5v-22.8M1033.56 174v-22.8M1048.18 0v14.3M1048.18 43.5v14.3M1048.18 130.5v-14.3M1048.18 174v-14.3M1077.41 0v14.3M1077.41 43.5v14.3M1077.41 130.5v-14.3M1077.41 174v-14.3M1092.02 0v22.8M1092.02 43.5v22.8M1092.02 130.5v-22.8M1092.02 174v-22.8M1106.64 0v14.3M1106.64 43.5v14.3M1106.64 130.5v-14.3M1106.64 174v-14.3M1135.86 0v14.3M1135.86 43.5v14.3M1135.86 130.5v-14.3M1135.86 174v-14.3M1150.48 0v22.8M1150.48 43.5v22.8M1150.48 130.5v-22.8M1150.48 174v-22.8M1165.09 0v14.3M1165.09 43.5v14.3M1165.09 130.5v-14.3M1165.09 174v-14.3M1194.32 0v14.3M1194.32 43.5v14.3M1194.32 130.5v-14.3M1194.32 174v-14.3M1208.94 0v22.8M1208.94 43.5v22.8M1208.94 130.5v-22.8M1208.94 174v-22.8M1223.55 0v14.3M1223.55 43.5v14.3M1223.55 130.5v-14.3M1223.55 174v-14.3M1252.78 0v14.3M1252.78 43.5v14.3M1252.78 130.5v-14.3M1252.78 174v-14.3M1267.4 0v22.8M1267.4 43.5v22.8M1267.4 130.5v-22.8M1267.4 174v-22.8M1282.01 0v14.3M1282.01 43.5v14.3M1282.01 130.5v-14.3M1282.01 174v-14.3M1311.24 0v14.3M1311.24 43.5v14.3M1311.24 130.5v-14.3M1311.24 174v-14.3M1325.85 0v22.8M1325.85 43.5v22.8M1325.85 130.5v-22.8M1325.85 174v-22.8M1340.47 0v14.3M1340.47 43.5v14.3M1340.47 130.5v-14.3M1340.47 174v-14.3M1369.7 0v14.3M1369.7 43.5v14.3M1369.7 130.5v-14.3M1369.7 174v-14.3M1384.31 0v22.8M1384.31 43.5v22.8M1384.31 130.5v-22.8M1384.31 174v-22.8M1398.93 0v14.3M1398.93 43.5v14.3M1398.93 130.5v-14.3M1398.93 174v-14.3M1428.16 0v14.3M1428.16 43.5v14.3M1428.16 130.5v-14.3M1428.16 174v-14.3M1442.77 0v22.8M1442.77 43.5v22.8M1442.77 130.5v-22.8M1442.77 174v-22.8M1457.39 0v14.3M1457.39 43.5v14.3M1457.39 130.5v-14.3M1457.39 174v-14.3" stroke="rgba(0,0,0,.165)" stroke-width="1" fill="none"/><rect x="69" y="18.3" width="1403" height="6.8" fill="rgba(215,95,100,.7)"/><text class="ct" x="770.5" y="13" text-anchor="middle">24h 00m(108h 35m)</text></svg>
<div class="a" style="left:1498px;top:1038px;width:36px;height:31px;border:1px solid #e1e4e8;border-radius:3px;background:#f1f3f5"></div>
<svg class="a" style="left:1507px;top:1047px" width="18" height="15" viewBox="0 0 18 15"><path d="M1 1h16v9.5H7l-3.5 3v-3H1z" fill="none" stroke="#d4d4d4" stroke-width="1.3"/><path d="M5.5 6h1.5M8.3 6h1.5M11.1 6h1.5" stroke="#d4d4d4" stroke-width="1.5"/></svg>
<div class="btn pur" style="left:1538px;top:1038px;width:103px;height:31px"><span class="t" style="left:9.5px;top:9px;font-size:13.3px;color:#fff">Log Events</span><svg class="a" style="left:84px;top:10px" width="9" height="12" viewBox="0 0 9 12"><path d="M2 1.5l4.5 4.5L2 10.5" stroke="#fff" stroke-width="2.4" fill="none"/></svg></div>
<div class="t" style="left:1957px;top:23px;font-size:24px;color:#212529">Editing Tools</div>
<div class="btn" style="left:2109px;top:16px;width:110px;height:37.5px;background:#28a2b8;border-radius:4px"><span class="t" style="left:12.5px;top:11.2px;font-size:16px;color:#fff">View Errors</span></div>
<div class="a" style="left:1686px;top:67px;width:793px;height:235.5px;border:1px solid #dfdfdf;border-radius:4px;background:#fff"></div>
<div class="t" style="left:1699px;top:81.5px;font-size:14px;color:#212529"><b>Transaction:</b> Opened</div>
<div class="t" style="left:1699px;top:99.5px;font-size:14px;color:#212529"><b>Author:</b> Artem Cherednichenko ext. 1277</div>
<div class="t" style="left:1699px;top:119.5px;font-size:14px;color:#212529"><b>Validated Drivers:</b> Ihor Horodyuk<svg style="display:inline-block;vertical-align:.5px;margin:-3px 0 -3px 1.5px" width="11.5" height="13.5" viewBox="0 0 10 12"><path d="M2 0h6v1.2H7V5c1.5 .8 2.2 1.8 2.2 3H5.6v3.5L5 12l-.6-.5V8H.8C.8 6.8 1.5 5.8 3 5V1.2H2z" fill="#34a64b"/></svg>, Vladyslav Maksymchuk<svg style="display:inline-block;vertical-align:.5px;margin:-3px 0 -3px 1.5px" width="11.5" height="13.5" viewBox="0 0 10 12"><path d="M2 0h6v1.2H7V5c1.5 .8 2.2 1.8 2.2 3H5.6v3.5L5 12l-.6-.5V8H.8C.8 6.8 1.5 5.8 3 5V1.2H2z" fill="#34a64b"/></svg></div>
<div class="t" style="left:1699px;top:137.5px;font-size:14px;color:#212529"><b>Validated Trucks:</b> <span style="color:#34a64b">777</span></div>
<div class="t" style="left:1699px;top:156.5px;font-size:14px;color:#212529"><b>Transaction Type:</b> Change Driving Duration</div>
<div class="a" style="left:1699px;top:178px;width:13px;height:13px;border-radius:2px;background:#d4d4d4"></div>
<svg class="a" style="left:1701px;top:180.5px" width="9" height="8" viewBox="0 0 9 8"><path d="M1 4l2.5 2.5L8 1.5" stroke="#fff" stroke-width="1.6" fill="none"/></svg>
<div class="t" style="left:1719px;top:174.5px;font-size:14px;color:#6c7a8c">Change Driving Duration</div>
<div class="btn" style="left:2102px;top:80px;width:72px;height:37.5px;background:#dc3545;border-radius:4px"><span class="t" style="left:12.5px;top:11.2px;font-size:16px;color:#fff">Delete</span></div>
<div class="btn" style="left:2178px;top:80px;width:80px;height:37.5px;background:#34a64b;border-radius:4px"><span class="t" style="left:12.5px;top:11.2px;font-size:16px;color:#fff">Process</span></div>
<div class="a" style="left:1699px;top:202px;width:767px;height:1px;background:#e4e4e4"></div>
<div class="t" style="left:1699px;top:216px;font-size:14px">Pass transaction to:</div>
<div class="inp sel" style="left:2028px;top:211px;width:306px;height:30.5px"><span class="ph" style="top:8px">Select New Owner</span><div class="caret" style="right:11px;top:12.2px"></div></div>
<div class="a" style="left:1699px;top:250.5px;width:767px;height:1px;background:#e4e4e4"></div>
<div class="t" style="left:1699px;top:264px;font-size:14px">Start transaction from date:</div>
<div class="inp" style="left:2028px;top:259px;width:275px;height:30.5px;border-radius:4px 0 0 4px;color:#333"><span style="top:8px">05-Jan-2026 11:56:18</span></div>
<div class="a" style="left:2302px;top:259px;width:32px;height:30.5px;background:#34a64b;border-radius:0 3px 3px 0"></div>
<svg class="a" style="left:2311px;top:268px" width="14" height="12" viewBox="0 0 14 12"><path d="M1.5 6l4 4L12.5 2.5" stroke="#fff" stroke-width="2.8" fill="none"/></svg>
<div class="a" style="left:1686px;top:311px;width:793px;height:64px;background:#f8d7da;border:1px solid #f5c6cb;border-radius:4px"></div>
<div class="t" style="left:1707px;top:328px;font-size:16px;color:#721c24">Driver has <b>82</b> events in failed queue!</div>
<div class="btn" style="left:2292px;top:324px;width:166px;height:37.5px;background:#dc3545;border-radius:4px"><span class="t" style="left:13px;top:11.2px;font-size:16px;color:#fff">Go to Failed Queue</span></div>
<div class="t" style="left:1686px;top:383px;font-size:16px;color:#212529">RT</div>
<div class="a" style="left:1715px;top:384px;width:28px;height:15px;border:1px solid #adb5bd;border-radius:8px;background:#fff"></div><div class="a" style="left:1717px;top:386px;width:11px;height:11px;border-radius:6px;background:#adb5bd"></div>
<div class="t" style="left:1751px;top:383px;font-size:16px;color:#212529">AT</div>
<div class="btn pur" style="left:1773.2px;top:403px;width:37.5px;height:36.5px"></div>
<svg class="a" style="left:1780px;top:408.4px" width="24" height="24" viewBox="-10 -10 20 20"><path d="M-5 -1.6h3.4V-5h3.2v3.4H5v3.2H1.6V5h-3.2V1.6H-5z" fill="#fff"/></svg>
<div class="btn pur" style="left:1815.2px;top:403px;width:38.5px;height:36.5px"></div>
<svg class="a" style="left:1822.5px;top:408.4px" width="24" height="24" viewBox="-10 -10 20 20"><path d="M-5.5 5.5l.8-3.3L2.2-4.7l2.5 2.5-6.9 6.9zM3-5.5l1-1 2.5 2.5-1 1z" fill="#fff"/></svg>
<div class="btn pur" style="left:1858.3px;top:403px;width:40.4px;height:36.5px"></div>
<svg class="a" style="left:1866.5px;top:408.4px" width="24" height="24" viewBox="-10 -10 20 20"><path d="M-7 0l3.5-3v2h7v-2L7 0l-3.5 3v-2h-7v2z" fill="#fff"/></svg>
<div class="btn pur" style="left:1903.3px;top:403px;width:40.3px;height:36.5px"></div>
<svg class="a" style="left:1911.4px;top:408.4px" width="24" height="24" viewBox="-10 -10 20 20"><path d="M-7 -3h10v-2.5l4 3.5-4 3.5V-1H-7zM7 3H-3v2.5L-7 2l4-3.5V1H7z" fill="#fff" transform="translate(0,.5)"/></svg>
<div class="btn purl" style="left:1948.1px;top:403px;width:35.7px;height:36.5px"></div>
<svg class="a" style="left:1953.9px;top:408.4px" width="24" height="24" viewBox="-10 -10 20 20"><circle cx="0" cy="-3" r="3.3" fill="#fff"/><path d="M-5.5 6.5V3.5C-5.5 1.5-4 .3-2.5 .3h5C4 .3 5.5 1.5 5.5 3.5v3z" fill="#fff"/></svg>
<div class="btn pur" style="left:1988.4px;top:403px;width:37.4px;height:36.5px"></div>
<svg class="a" style="left:1995.1px;top:408.4px" width="24" height="24" viewBox="-10 -10 20 20"><path d="M-4.5 -3h9v1.2h-.8V5.5c0 .6-.4 1-1 1h-5.4c-.6 0-1-.4-1-1V-1.8h-.8zM-2 -4.5h4v1.2h-4z" fill="#fff"/><path d="M-2 -.5v5M0 -.5v5M2 -.5v5" stroke="#512da8" stroke-width=".9"/></svg>
<div class="btn pur" style="left:2030.4px;top:403px;width:41.2px;height:36.5px"></div>
<svg class="a" style="left:2039px;top:408.4px" width="24" height="24" viewBox="-10 -10 20 20"><circle cx="0" cy="-2.5" r="3" fill="#fff"/><circle cx="-5" cy="-3" r="2.2" fill="#fff"/><circle cx="5" cy="-3" r="2.2" fill="#fff"/><path d="M-4.5 6.5V3c0-1.8 1.2-2.8 2.5-2.8h4c1.3 0 2.5 1 2.5 2.8v3.5z" fill="#fff"/><path d="M-8 4V1.5C-8 .2-7-.5-6-.5h2L-5 4zM8 4V1.5C8 .2 7-.5 6-.5H4L5 4z" fill="#fff"/></svg>
<div class="btn pur" style="left:2076.4px;top:403px;width:38.2px;height:36.5px"></div>
<svg class="a" style="left:2083.5px;top:408.4px" width="24" height="24" viewBox="-10 -10 20 20"><path d="M-4 -5.5v11M0 -5.5v11M4 -5.5v11" stroke="#fff" stroke-width="2.2"/></svg>
<div class="btn pur" style="left:2119.2px;top:403px;width:39.5px;height:36.5px"></div>
<svg class="a" style="left:2126.9px;top:408.4px" width="24" height="24" viewBox="-10 -10 20 20"><path d="M-5.5 5.5l8-8 1.6 1.6-8 8zM3.5 -3.5l1.5-1.5 1.6 1.6-1.5 1.5z" fill="#fff" transform="translate(-.5,-.5)"/><path d="M-3 -6v2M-4 -5h2M0 -7v1.5M5.5 1v2M4.5 2h2" stroke="#fff" stroke-width=".9"/></svg>
<div class="btn pur" style="left:2163.3px;top:403px;width:53.4px;height:36.5px"></div>
<div class="t" style="left:2190px;top:412.5px;font-size:16px;color:#fff;transform:translateX(-50%)">+ IR</div>
<div class="btn purl" style="left:2221.3px;top:403px;width:38.2px;height:36.5px"></div>
<svg class="a" style="left:2228.4px;top:408.4px" width="24" height="24" viewBox="-10 -10 20 20"><g transform="scale(.92,.86)"><path d="M-5 -1A5 5 0 0 1 4 -3.5" fill="none" stroke="#fff" stroke-width="2.6"/><path d="M6 -6.5v5H1z" fill="#fff"/><path d="M5 1A5 5 0 0 1 -4 3.5" fill="none" stroke="#fff" stroke-width="2.6"/><path d="M-6 6.5v-5h5z" fill="#fff"/></g></svg>
<div class="btn pur" style="left:2264.1px;top:403px;width:39.7px;height:36.5px"></div>
<svg class="a" style="left:2271.9px;top:408.4px" width="24" height="24" viewBox="-10 -10 20 20"><path d="M-6 -3.6h12" stroke="#fff" stroke-width="1.4"/><path d="M-7 -3.6l2.8-2.2v4.4zM7 -3.6l-2.8-2.2v4.4z" fill="#fff"/><text x="0" y="7.6" text-anchor="middle" style="font:bold 10.5px 'Liberation Sans',Arial,sans-serif;fill:#fff">A</text></svg>
<div class="btn pur" style="left:2308.4px;top:403px;width:40.2px;height:36.5px"></div>
<svg class="a" style="left:2316.5px;top:408.4px" width="24" height="24" viewBox="-10 -10 20 20"><circle cx="-4.5" cy="-3.5" r="2" fill="none" stroke="#fff" stroke-width="1.5"/><circle cx="-4.5" cy="3.5" r="2" fill="none" stroke="#fff" stroke-width="1.5"/><path d="M-3 -2.5L7 4M-3 2.5L7 -4" stroke="#fff" stroke-width="1.6"/></svg>
<div class="btn pur" style="left:2353.2px;top:403px;width:38.7px;height:36.5px"></div>
<svg class="a" style="left:2360.6px;top:408.4px" width="24" height="24" viewBox="-10 -10 20 20"><g transform="translate(-1,.5) scale(.85)"><path d="M-4.5 -3.5A5.5 5.5 0 1 1 -3.5 4.5" fill="none" stroke="#fff" stroke-width="2"/><path d="M-7.5 -5.5l4.5 .5-1 4z" fill="#fff"/><path d="M0 -2.5V1h2.5" stroke="#fff" stroke-width="1.5" fill="none"/></g></svg>
<div class="a" style="left:2371px;top:402px;width:17.5px;height:17.5px;border-radius:9px;background:#fdc02f"></div>
<div class="t" style="left:2379.8px;top:405.3px;font-size:11.5px;color:#222;transform:translateX(-50%)">6</div>
<div class="a" style="left:1686px;top:452px;width:793px;height:640px;border:1px solid #dfdfdf;border-radius:4px;background:#fff"></div>
<div class="a" style="left:1686px;top:452px;width:793px;height:50px;background:#ede9f7;border-bottom:1px solid #d9d4e6;border-radius:4px 4px 0 0"></div>
<div class="t" style="left:1707px;top:468px;font-size:16px;color:#212529">Edit Tool</div>
<div class="lbl" style="left:1699px;top:527px"><i>*</i>Event Code:</div>
<div class="inp dis sel" style="left:1699px;top:547.2px;width:371px;height:30.5px"><span class="ph" style="top:6.8px">Select Duty Status</span><div class="caret" style="right:11px;top:12.2px"></div></div>
<div class="lbl" style="left:1699px;top:591px"><i>*</i>Event Time:</div>
<div class="inp dis" style="left:1699px;top:610.4px;width:371px;height:30.5px"><span class="" style="top:6.6px">14-Jan-2026 12:02:42 PM</span></div>
<div class="lbl" style="left:2094px;top:591px"><i>*</i>Driver Time Zone:</div>
<div class="inp sel" style="left:2094px;top:610.4px;width:371.5px;height:30.5px"><div class="caret" style="right:11px;top:12.2px"></div></div>
<div class="lbl" style="left:1699px;top:654px">State/Province:</div>
<div class="inp sel" style="left:1699px;top:673.4px;width:238.6px;height:30.5px"><span class="ph" style="top:7.6px">State/Province</span><div class="caret" style="right:11px;top:12.2px"></div></div>
<div class="lbl" style="left:1962.3px;top:654px">City:</div>
<div class="inp dis" style="left:1962.3px;top:673.4px;width:239.3px;height:30.5px"><span class="ph" style="top:7.6px">City</span></div>
<div class="lbl" style="left:2226px;top:654px">Country:</div>
<div class="inp dis" style="left:2226px;top:673.4px;width:239.5px;height:30.5px"><span class="ph" style="top:7.6px">Country</span></div>
<div class="a" style="left:2411.2px;top:650px;width:54.8px;height:23.5px;background:#f0f3fb;border-radius:2px 2px 0 0"></div>
<div class="t" style="left:2416.5px;top:655px;font:bold 12px 'Liberation Sans',Arial,sans-serif;color:#1b1b1b">«</div><svg class="a" style="left:2422.8px;top:654.4px" width="13.8" height="16.56" viewBox="-5 -5.5 10 12"><path d="M0 -4.5a2.6 2.6 0 0 1 2.6 2.6c0 1.8-2.6 5-2.6 5s-2.6-3.2-2.6-5A2.6 2.6 0 0 1 0 -4.5z" fill="#1b1b1b"/><circle cx="0" cy="-1.9" r="1.05" fill="#f0f3fb"/></svg>
<div class="t" style="left:2444.4px;top:655px;font:bold 12px 'Liberation Sans',Arial,sans-serif;color:#1b1b1b">»</div><svg class="a" style="left:2450px;top:654.4px" width="13.8" height="16.56" viewBox="-5 -5.5 10 12"><path d="M0 -4.5a2.6 2.6 0 0 1 2.6 2.6c0 1.8-2.6 5-2.6 5s-2.6-3.2-2.6-5A2.6 2.6 0 0 1 0 -4.5z" fill="#1b1b1b"/><circle cx="0" cy="-1.9" r="1.05" fill="#f0f3fb"/></svg>
<div class="lbl" style="left:1699px;top:717px"><i>*</i>Truck:</div>
<div class="inp dis sel" style="left:1699px;top:737.4px;width:238.6px;height:30.5px"><span class="ph" style="top:6.6px">Truck</span><div class="caret" style="right:11px;top:12.2px"></div></div>
<div class="lbl" style="left:1962.3px;top:717px">Location Description:</div>
<div class="inp dis" style="left:1962.3px;top:737.4px;width:239.3px;height:30.5px"><span class="ph" style="top:6.6px">Location Description</span></div>
<div class="lbl" style="left:2226px;top:717px">Next Location:</div>
<div class="inp dis" style="left:2226px;top:737.4px;width:239.5px;height:30.5px"><span class="" style="top:6.6px">N/A</span></div>
<div class="lbl" style="left:1699px;top:781px">Trailer Number:</div>
<div class="inp" style="left:1699px;top:800.3px;width:238.6px;height:30.5px"><span class="ph" style="top:7.7px">Trailer Number</span></div>
<div class="lbl" style="left:1962.3px;top:781px">Trailer Odometer:</div>
<div class="inp" style="left:1962.3px;top:800.3px;width:239.3px;height:30.5px"><span class="ph" style="top:7.7px">Trailer Odometer</span></div>
<div class="lbl" style="left:2226px;top:781px">Trailer License:</div>
<div class="inp" style="left:2226px;top:800.3px;width:239.5px;height:30.5px"><span class="ph" style="top:7.7px">Trailer License</span></div>
<div class="lbl" style="left:1699px;top:844px">Shipping Number:</div>
<div class="inp" style="left:1699px;top:864.2px;width:238.6px;height:30.5px"><span class="ph" style="top:6.8px">Shipping Number</span></div>
<div class="lbl" style="left:1962.3px;top:844px">Shipping From:</div>
<div class="inp" style="left:1962.3px;top:864.2px;width:239.3px;height:30.5px"><span class="ph" style="top:6.8px">Shipping From</span></div>
<div class="lbl" style="left:2226px;top:844px">Shipping To:</div>
<div class="inp" style="left:2226px;top:864.2px;width:239.5px;height:30.5px"><span class="ph" style="top:6.8px">Shipping To</span></div>
<div class="a" style="left:2445.5px;top:777px;width:20px;height:23px;background:#f0f3fb;border-radius:2px 2px 0 0"></div>
<svg class="a" style="left:2451px;top:783.2px" width="9.2" height="9.2" viewBox="0 0 9 9"><path d="M0 3.3h3.3V0h2.4v3.3H9v2.4H5.7V9H3.3V5.7H0z" fill="#111"/></svg>
<div class="a" style="left:2445.5px;top:840.5px;width:20px;height:23px;background:#f0f3fb;border-radius:2px 2px 0 0"></div>
<svg class="a" style="left:2451px;top:846.7px" width="9.2" height="9.2" viewBox="0 0 9 9"><path d="M0 3.3h3.3V0h2.4v3.3H9v2.4H5.7V9H3.3V5.7H0z" fill="#111"/></svg>
<div class="lbl" style="left:1699px;top:908px"><i>*</i>Odometer :</div>
<div class="inp" style="left:1699px;top:927.4px;width:371px;height:30.5px"><span class="ph" style="top:7.6px">Odometer</span></div>
<div class="lbl" style="left:2094px;top:908px">Accumulated Vehicle Miles:</div>
<div class="inp" style="left:2094px;top:927.4px;width:371.5px;height:30.5px"><span class="ph" style="top:7.6px">Accumulated Vehicle Miles</span></div>
<div class="lbl" style="left:1699px;top:971px"><i>*</i>Total Engine Hours:</div>
<div class="inp" style="left:1699px;top:991.2px;width:371px;height:30.5px"><span class="ph" style="top:6.8px">Total Engine Hours</span></div>
<div class="lbl" style="left:2094px;top:971px">Elapsed Engine Hours:</div>
<div class="inp" style="left:2094px;top:991.2px;width:371.5px;height:30.5px"><span class="ph" style="top:6.8px">Elapsed Engine Hours</span></div>
<div class="lbl" style="left:1699px;top:1035px"><i>*</i>Latitude:</div>
<div class="inp" style="left:1699px;top:1053.9px;width:305px;height:30.5px"></div>
<div class="lbl" style="left:2016px;top:1035px"><i>*</i>Longitude:</div>
<div class="inp" style="left:2016px;top:1053.9px;width:318px;height:30.5px"></div>
<div class="btn purl" style="left:2346px;top:1053.9px;width:54px;height:31px;border-radius:4px"></div>
<div class="btn purl" style="left:2412px;top:1053.9px;width:54px;height:31px;border-radius:4px"></div>
<div class="a" style="left:2182px;top:1058.5px;width:200px;height:3px;background:rgba(0,0,0,.18);border-radius:3px 3px 0 0"></div>
<div class="a" style="left:2478.5px;top:60px;width:10.5px;height:1001px;background:#eef0f4"></div>
<div class="a" style="left:2478.5px;top:60px;width:10.5px;height:922px;background:#6b7a90"></div>
<div class="a" style="left:2504px;top:1px;width:10px;height:1060px;background:#ebebf5"></div>
<div class="a" style="left:2202px;top:6px;width:300px;height:246px;background:#bb3632;border-radius:3px;box-shadow:0 0 12px rgba(0,0,0,.28)"></div>
<div class="t" style="left:2252px;top:24.5px;font-size:16px;color:#fff;text-shadow:0 0 .4px #fff">Event Engine synchronization</div>
<div class="t" style="left:2252px;top:48.5px;font-size:16px;color:#fff;text-shadow:0 0 .4px #fff">data diagnostic logged. 14-Jan-</div>
<div class="t" style="left:2252px;top:72.5px;font-size:16px;color:#fff;text-shadow:0 0 .4px #fff">2026 07:26:12, Driver: Vladyslav</div>
<div class="t" style="left:2252px;top:96.5px;font-size:16px;color:#fff;text-shadow:0 0 .4px #fff">Maksymchuk have coordinates</div>
<div class="t" style="left:2252px;top:120.5px;font-size:16px;color:#fff;text-shadow:0 0 .4px #fff">X, X or E, E. Please apply</div>
<div class="t" style="left:2252px;top:144.5px;font-size:16px;color:#fff;text-shadow:0 0 .4px #fff">Normalize Tool to correct</div>
<div class="t" style="left:2252px;top:168.5px;font-size:16px;color:#fff;text-shadow:0 0 .4px #fff">coordinates. Malfunction events</div>
<div class="t" style="left:2252px;top:192.5px;font-size:16px;color:#fff;text-shadow:0 0 .4px #fff">will be automatically removed</div>
<div class="t" style="left:2252px;top:216.5px;font-size:16px;color:#fff;text-shadow:0 0 .4px #fff">during transaction processing.</div>
<svg class="a" style="left:2481px;top:24px" width="12" height="12" viewBox="0 0 12 12"><path d="M1.5 1.5l9 9M10.5 1.5l-9 9" stroke="#fff" stroke-width="3"/></svg>
<svg class="a" style="left:2216px;top:116px" width="25" height="25" viewBox="-12.5 -12.5 25 25"><circle r="11.4" fill="#fff"/><path d="M-4.5 -4.5l9 9M4.5 -4.5l-9 9" stroke="#bb3632" stroke-width="3.4"/></svg>
</body></html>
